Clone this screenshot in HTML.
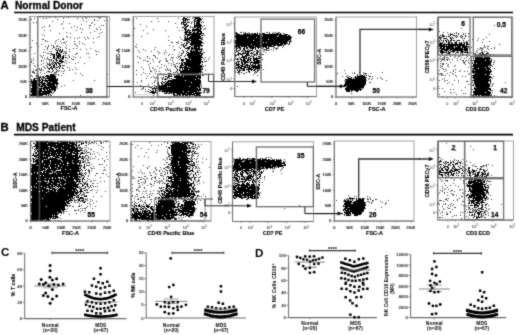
<!DOCTYPE html>
<html><head><meta charset="utf-8"><style>
html,body{margin:0;padding:0;background:#fff;width:520px;height:335px;overflow:hidden}
svg{display:block;filter:grayscale(1)}
text{font-family:"Liberation Sans", sans-serif}
</style></head><body><svg width="520" height="335" viewBox="0 0 520 335" font-family='"Liberation Sans", sans-serif'><defs><filter id="bl" x="0" y="0" width="520" height="335" filterUnits="userSpaceOnUse"><feConvolveMatrix order="3" kernelMatrix="0.025 0.1 0.025 0.1 0.5 0.1 0.025 0.1 0.025" edgeMode="none" preserveAlpha="false"/></filter></defs><rect width="520" height="335" fill="#fff"/><g filter="url(#bl)"><text x="0.6" y="8.9" font-size="11.3" font-weight="bold" stroke="#000" stroke-width="0.3">A</text><text x="15" y="8.6" font-size="10.2" font-weight="bold" textLength="68" lengthAdjust="spacingAndGlyphs" stroke="#000" stroke-width="0.3">Normal Donor</text><line x1="14" y1="12.5" x2="513" y2="12.5" stroke="#000" stroke-width="1.6"/><text x="0.6" y="130.8" font-size="11.3" font-weight="bold" stroke="#000" stroke-width="0.3">B</text><text x="16.2" y="130.5" font-size="10.2" font-weight="bold" textLength="59.5" lengthAdjust="spacingAndGlyphs" stroke="#000" stroke-width="0.3">MDS Patient</text><line x1="14" y1="134.6" x2="513" y2="134.6" stroke="#000" stroke-width="1.6"/><g transform="translate(0 0.5)"><path d="M49 17h1M55 17h1M68 17h1M85 17h1M98 17h1M100 17h1M187 17h1M189 17h1M193 17h1M34 18h1M43 18h1M46 18h1M63 18h1M77 18h1M82 18h1M86 18h1M99 18h1M136 18h1M157 18h1M178 18h1M192 18h1M202 18h1M31 19h1M57 19h1M94 19h1M188 19h2M83 20h1M94 20h1M97 20h1M104 20h1M107 20h1M52 21h1M63 21h1M86 21h1M151 21h1M158 21h1M168 21h1M188 21h1M192 21h1M202 21h1M33 22h1M36 22h1M92 22h1M188 22h2M191 22h1M203 22h1M62 23h1M69 23h1M91 23h1M175 23h1M191 23h1M61 24h1M81 24h1M94 24h1M140 24h1M181 24h1M49 25h1M89 25h2M101 25h1M103 25h1M204 25h1M494 25h1M44 26h1M49 26h1M74 26h1M146 26h1M190 26h1M42 27h1M71 27h1M77 27h1M89 27h1M99 27h1M177 27h1M63 28h1M80 28h1M96 28h1M134 28h1M204 28h2M461 28h1M82 29h1M97 29h1M100 29h1M153 29h1M203 29h1M37 30h1M44 30h1M50 30h1M76 30h1M143 30h1M165 30h1M179 30h1M182 30h1M94 31h1M439 31h1M37 32h1M66 32h1M81 32h1M90 32h1M101 32h1M235 32h2M240 32h2M243 32h1M245 32h1M248 32h1M257 32h1M266 32h2M269 32h1M273 32h1M275 32h1M278 32h2M443 32h1M447 32h1M456 32h1M59 33h1M70 33h1M99 33h1M147 33h1M203 33h1M450 33h1M454 33h1M456 33h1M458 33h1M463 33h1M465 33h1M468 33h1M37 34h1M42 34h1M203 34h1M469 34h1M489 34h1M44 35h1M204 35h1M66 36h1M99 36h1M141 36h1M168 36h1M439 36h1M468 36h1M67 37h1M70 37h1M79 37h1M84 37h1M87 37h1M97 37h1M180 37h1M439 37h1M486 37h1M63 38h1M74 38h1M77 38h1M88 38h1M93 38h1M438 38h2M478 38h1M42 39h2M58 39h1M62 39h2M85 39h1M181 39h1M438 39h1M472 39h1M483 39h1M32 40h1M45 40h1M56 40h1M168 40h1M183 40h1M439 40h1M468 40h1M477 40h1M45 41h1M47 41h1M55 41h1M60 41h1M66 41h1M74 41h1M79 41h1M178 41h1M291 41h1M438 41h1M489 41h1M63 42h2M93 42h1M171 42h2M176 42h2M181 42h1M482 42h1M36 43h1M55 43h1M61 43h1M65 43h1M74 43h1M79 43h1M82 43h1M178 43h1M203 43h1M41 44h1M75 44h1M84 44h1M136 44h1M181 44h2M288 44h2M499 44h1M48 45h1M51 45h1M53 45h1M57 45h1M66 45h1M76 45h1M169 45h1M181 45h1M484 45h1M38 46h1M45 46h1M48 46h1M53 46h1M56 46h2M59 46h1M77 46h1M135 46h1M173 46h1M283 46h1M484 46h1M487 46h2M31 47h1M47 47h1M53 47h2M65 47h1M136 47h1M155 47h1M179 47h1M277 47h1M282 47h1M471 47h1M480 47h1M483 47h1M485 47h1M494 47h1M47 48h1M52 48h1M66 48h1M73 48h1M76 48h1M90 48h1M180 48h1M273 48h1M275 48h3M469 48h1M477 48h1M480 48h3M487 48h1M491 48h1M494 48h1M44 49h1M47 49h1M69 49h1M80 49h1M86 49h1M143 49h1M154 49h1M174 49h1M263 49h4M269 49h1M271 49h1M276 49h1M469 49h1M473 49h1M479 49h1M482 49h1M488 49h1M37 50h1M95 50h1M138 50h1M145 50h1M165 50h1M174 50h1M264 50h1M266 50h3M273 50h1M477 50h1M481 50h1M49 51h1M51 51h1M66 51h1M69 51h1M96 51h1M98 51h1M151 51h1M157 51h1M263 51h1M476 51h1M482 51h1M484 51h1M486 51h1M43 52h1M45 52h1M65 52h1M139 52h1M159 52h1M164 52h1M166 52h1M179 52h1M203 52h2M265 52h1M471 52h1M477 52h1M487 52h1M34 53h1M47 53h2M50 53h1M66 53h1M76 53h2M86 53h1M88 53h1M158 53h1M181 53h1M438 53h1M467 53h1M474 53h2M75 54h1M96 54h1M164 54h1M169 54h1M172 54h1M178 54h1M181 54h1M262 54h2M446 54h1M449 54h2M452 54h1M462 54h2M466 54h1M473 54h1M493 54h1M40 55h1M43 55h1M50 55h1M68 55h1M153 55h2M168 55h1M180 55h2M442 55h1M446 55h1M454 55h1M460 55h1M462 55h1M466 55h1M41 56h1M69 56h1M73 56h1M137 56h1M147 56h1M155 56h1M178 56h2M440 56h1M444 56h1M450 56h1M455 56h1M458 56h2M467 56h1M470 56h1M42 57h1M47 57h1M50 57h1M66 57h1M69 57h1M75 57h1M80 57h1M89 57h1M139 57h1M147 57h1M155 57h1M171 57h1M173 57h1M176 57h1M178 57h1M180 57h1M205 57h1M209 57h1M261 57h1M443 57h2M446 57h2M454 57h1M461 57h1M466 57h1M471 57h1M473 57h1M33 58h1M44 58h1M47 58h1M67 58h1M71 58h1M140 58h1M149 58h1M157 58h1M165 58h1M172 58h1M180 58h1M203 58h1M439 58h2M442 58h1M444 58h1M448 58h1M457 58h1M464 58h1M469 58h1M31 59h1M46 59h1M48 59h2M72 59h2M152 59h1M166 59h1M170 59h1M179 59h1M204 59h1M208 59h1M262 59h1M441 59h4M446 59h2M449 59h1M452 59h1M460 59h1M33 60h1M41 60h1M43 60h1M49 60h1M65 60h1M143 60h1M145 60h1M160 60h1M166 60h1M172 60h1M438 60h1M441 60h1M444 60h1M447 60h1M457 60h1M462 60h2M466 60h1M468 60h1M470 60h3M494 60h1M31 61h1M41 61h1M50 61h1M66 61h1M147 61h2M153 61h1M159 61h1M166 61h2M204 61h3M440 61h1M463 61h1M465 61h1M471 61h1M31 62h1M46 62h1M49 62h1M64 62h1M69 62h1M78 62h1M138 62h1M159 62h1M173 62h1M450 62h1M463 62h2M468 62h1M472 62h1M493 62h2M33 63h1M43 63h1M47 63h1M49 63h1M66 63h1M75 63h1M84 63h1M150 63h1M168 63h1M171 63h1M176 63h2M440 63h1M442 63h2M446 63h1M464 63h1M469 63h1M30 64h1M37 64h1M41 64h1M47 64h3M148 64h1M161 64h1M173 64h2M442 64h2M448 64h1M465 64h1M493 64h1M34 65h1M38 65h1M46 65h1M63 65h2M164 65h1M171 65h1M175 65h1M205 65h1M440 65h1M447 65h1M455 65h1M35 66h1M43 66h1M47 66h1M149 66h1M157 66h1M166 66h1M174 66h2M203 66h1M441 66h2M448 66h1M454 66h1M470 66h1M492 66h1M44 67h1M62 67h1M67 67h1M75 67h1M141 67h1M152 67h1M161 67h1M175 67h1M440 67h1M468 67h1M39 68h1M41 68h1M45 68h1M62 68h2M69 68h1M149 68h1M153 68h1M159 68h1M167 68h1M442 68h1M471 68h1M494 68h1M33 69h1M36 69h1M39 69h1M41 69h1M72 69h1M76 69h1M143 69h1M155 69h1M165 69h1M167 69h1M169 69h1M263 69h1M443 69h1M445 69h1M455 69h1M30 70h1M35 70h2M40 70h2M43 70h1M59 70h1M64 70h1M69 70h1M136 70h1M150 70h1M154 70h1M166 70h1M168 70h1M170 70h1M205 70h1M344 70h1M439 70h1M446 70h1M453 70h1M460 70h1M32 71h2M37 71h1M47 71h1M58 71h1M61 71h1M63 71h1M150 71h2M156 71h1M159 71h1M235 71h1M444 71h1M453 71h1M459 71h1M464 71h1M467 71h1M32 72h3M40 72h1M46 72h1M49 72h1M51 72h1M54 72h3M143 72h1M235 72h1M237 72h2M260 72h1M354 72h1M359 72h1M363 72h1M382 72h1M450 72h1M455 72h1M34 73h1M36 73h2M44 73h1M63 73h1M75 73h1M80 73h1M145 73h1M149 73h1M155 73h1M160 73h1M238 73h1M243 73h2M255 73h1M337 73h1M345 73h1M352 73h1M354 73h1M364 73h3M370 73h1M438 73h1M440 73h2M447 73h1M452 73h1M469 73h1M37 74h1M56 74h1M58 74h1M107 74h1M136 74h1M141 74h1M161 74h1M239 74h1M253 74h1M357 74h1M363 74h1M365 74h1M439 74h1M441 74h2M453 74h1M468 74h1M31 75h1M58 75h1M61 75h1M82 75h1M163 75h1M202 75h2M257 75h1M347 75h1M368 75h1M441 75h1M443 75h1M445 75h1M449 75h1M455 75h1M30 76h1M32 76h1M42 76h2M147 76h1M153 76h1M342 76h1M346 76h1M370 76h1M372 76h1M456 76h1M462 76h1M465 76h1M493 76h1M151 77h1M154 77h1M156 77h1M161 77h1M354 77h1M366 77h1M380 77h1M471 77h1M57 78h1M106 78h1M146 78h1M155 78h1M158 78h1M369 78h1M372 78h1M377 78h1M381 78h1M444 78h1M492 78h1M368 79h1M371 79h1M382 79h1M442 79h1M471 79h1M73 80h1M94 80h1M141 80h1M155 80h1M344 80h1M366 80h1M386 80h1M439 80h1M445 80h1M447 80h1M454 80h1M458 80h1M141 81h1M154 81h1M444 81h1M466 81h2M137 82h1M154 82h1M157 82h1M369 82h2M449 82h1M458 82h1M505 82h1M58 83h1M152 83h1M447 83h1M493 83h1M30 84h1M148 84h1M201 84h1M365 84h1M452 84h1M468 84h1M470 84h1M492 84h1M30 85h1M64 85h1M140 85h1M472 85h1M492 85h1M61 86h1M149 86h1M201 86h1M237 86h1M438 86h1M491 86h1M143 87h1M149 87h2M201 87h1M465 87h1M30 88h1M57 88h1M142 88h2M439 88h1M442 88h1M471 88h1M133 89h1M141 89h1M145 89h1M148 89h1M450 89h1M453 89h1M472 89h1M461 90h1M471 90h1M491 90h2M145 91h1M147 91h2M346 91h1M444 91h1M471 91h1M135 92h1M149 92h1M201 92h1M450 92h1M454 92h1M471 92h1M492 92h1M52 93h1M157 93h1M164 93h1M351 93h1M451 93h1M463 93h1M465 93h1M439 94h1M456 94h1M470 94h1M491 94h1M50 95h2M80 95h1M153 95h1M173 95h1M472 95h1M491 95h1M494 95h1M41 96h1M45 96h1M177 96h2M442 96h1M470 96h1M492 96h1M501 96h1M31 141h1M150 141h1M198 141h1M456 141h1M466 141h1M33 142h1M149 142h1M164 142h1M167 142h1M33 143h1M86 143h1M89 143h2M93 143h1M96 143h1M100 143h2M167 143h1M446 143h1M88 144h1M132 144h1M161 144h1M198 144h1M201 144h1M31 145h1M85 145h2M98 145h1M137 145h1M151 145h1M158 145h1M33 146h1M101 146h1M109 146h1M166 146h1M198 146h2M470 146h1M32 147h1M84 147h1M86 147h1M103 147h1M135 147h1M197 147h1M32 148h1M88 148h1M141 148h1M197 148h1M85 149h1M90 149h2M101 149h1M148 149h1M167 149h1M196 149h1M451 149h1M473 149h1M84 150h1M86 150h1M157 150h1M455 150h1M84 151h1M86 151h1M93 151h1M167 151h1M85 152h1M87 152h3M97 152h1M106 152h1M109 152h1M146 152h1M156 152h1M167 152h1M84 153h1M86 153h1M90 153h1M94 153h1M196 153h3M90 154h1M92 154h1M99 154h1M85 155h3M198 155h1M85 156h1M88 156h1M95 156h1M106 156h1M138 156h1M144 156h1M197 156h1M84 157h1M88 157h1M90 157h1M148 157h1M167 157h1M239 157h1M266 157h1M268 157h1M270 157h1M439 157h1M85 158h2M88 158h1M92 158h1M94 158h1M102 158h1M166 158h1M197 158h1M202 158h1M233 158h1M237 158h1M239 158h2M243 158h1M271 158h1M440 158h1M87 159h1M90 159h1M98 159h1M107 159h1M163 159h1M167 159h1M196 159h1M206 159h1M284 159h1M438 159h1M442 159h1M454 159h1M462 159h1M31 160h1M85 160h1M87 160h2M104 160h1M165 160h1M450 160h1M454 160h1M456 160h1M458 160h1M464 160h1M104 161h1M196 161h1M198 161h1M285 161h1M445 161h2M452 161h2M458 161h1M461 161h1M466 161h1M85 162h1M87 162h3M166 162h2M196 162h1M202 162h1M470 162h1M86 163h1M89 163h1M462 163h1M91 164h1M99 164h2M102 164h1M164 164h1M197 164h1M465 164h1M474 164h1M486 164h1M488 164h1M86 165h4M106 165h1M143 165h1M466 165h1M472 165h1M483 165h2M486 165h1M492 165h1M93 166h1M133 166h1M149 166h1M196 166h1M473 166h1M475 166h2M480 166h4M486 166h1M90 167h1M104 167h1M147 167h1M155 167h1M160 167h1M165 167h2M196 167h1M198 167h1M209 167h1M468 167h1M481 167h1M91 168h2M94 168h1M147 168h1M155 168h1M163 168h2M197 168h1M199 168h1M282 168h1M465 168h1M86 169h1M88 169h1M104 169h1M156 169h1M161 169h1M165 169h1M266 169h1M273 169h1M281 169h1M465 169h2M487 169h1M88 170h2M91 170h1M103 170h1M105 170h1M132 170h1M140 170h1M156 170h1M159 170h1M166 170h1M197 170h1M199 170h1M263 170h1M280 170h1M465 170h1M88 171h2M154 171h1M159 171h1M162 171h1M164 171h1M197 171h1M263 171h1M272 171h2M465 171h1M89 172h1M131 172h1M138 172h1M141 172h1M149 172h1M153 172h1M165 172h1M197 172h2M200 172h1M488 172h1M86 173h1M89 173h1M96 173h2M102 173h2M142 173h1M144 173h1M150 173h1M155 173h1M160 173h2M281 173h1M466 173h1M488 173h1M106 174h1M156 174h1M164 174h2M198 174h1M488 174h1M88 175h1M95 175h1M150 175h2M160 175h3M196 175h1M488 175h1M491 175h1M88 176h1M108 176h1M132 176h1M144 176h2M155 176h1M163 176h1M200 176h1M264 176h1M446 176h1M448 176h1M463 176h1M100 177h1M133 177h1M138 177h2M141 177h1M152 177h1M154 177h2M166 177h1M196 177h1M198 177h2M264 177h1M439 177h1M447 177h1M452 177h1M455 177h1M489 177h1M87 178h1M132 178h1M134 178h1M143 178h1M146 178h2M151 178h1M155 178h1M159 178h1M163 178h1M445 178h1M451 178h1M89 179h1M140 179h2M144 179h1M151 179h1M163 179h1M166 179h1M198 179h1M264 179h1M440 179h1M454 179h1M460 179h1M466 179h1M87 180h1M93 180h1M95 180h1M138 180h1M145 180h1M156 180h1M159 180h1M161 180h1M166 180h1M198 180h2M442 180h1M445 180h3M453 180h1M463 180h2M90 181h2M100 181h1M104 181h1M138 181h1M145 181h1M154 181h2M158 181h1M160 181h1M162 181h1M166 181h1M197 181h2M441 181h1M447 181h1M463 181h1M488 181h3M141 182h1M143 182h1M145 182h1M157 182h1M159 182h1M163 182h1M196 182h1M203 182h1M262 182h1M92 183h2M97 183h1M138 183h2M144 183h1M150 183h1M154 183h1M159 183h1M162 183h1M164 183h2M199 183h1M444 183h1M453 183h1M463 183h2M466 183h1M132 184h1M142 184h1M150 184h2M197 184h1M490 184h1M90 185h1M92 185h1M139 185h1M147 185h1M153 185h1M445 185h1M450 185h1M455 185h1M466 185h1M488 185h1M88 186h1M90 186h1M93 186h1M95 186h1M97 186h1M140 186h1M151 186h1M442 186h1M458 186h1M464 186h1M488 186h1M89 187h1M91 187h1M138 187h2M144 187h1M159 187h1M161 187h1M447 187h1M488 187h1M88 188h1M132 188h1M144 188h1M159 188h2M442 188h1M445 188h1M488 188h1M92 189h1M136 189h2M444 189h1M448 189h1M460 189h1M462 189h1M90 190h2M97 190h1M136 190h1M138 190h1M146 190h1M153 190h1M157 190h1M160 190h1M198 190h1M440 190h1M442 190h1M451 190h2M459 190h1M105 191h1M132 191h1M139 191h1M143 191h1M145 191h1M150 191h1M158 191h2M198 191h2M442 191h1M450 191h1M454 191h1M465 191h1M88 192h1M96 192h1M159 192h1M198 192h1M260 192h1M439 192h1M444 192h1M447 192h1M462 192h1M488 192h1M142 193h1M146 193h1M150 193h1M152 193h1M157 193h2M444 193h1M451 193h1M463 193h1M488 193h1M136 194h2M149 194h1M203 194h1M438 194h1M452 194h2M488 194h1M132 195h1M147 195h1M151 195h1M198 195h1M348 195h1M447 195h1M453 195h1M456 195h1M466 195h1M490 195h1M93 196h1M101 196h1M132 196h1M135 196h1M137 196h1M143 196h1M149 196h1M199 196h1M201 196h1M205 196h1M354 196h1M356 196h1M358 196h1M367 196h1M461 196h2M466 196h1M140 197h2M143 197h2M147 197h1M149 197h1M155 197h2M349 197h2M358 197h1M369 197h1M487 197h1M87 198h1M134 198h1M138 198h1M155 198h1M198 198h1M364 198h1M367 198h1M370 198h1M446 198h1M448 198h1M459 198h1M488 198h1M77 199h1M90 199h1M131 199h1M137 199h2M140 199h1M150 199h2M155 199h1M246 199h2M344 199h1M367 199h2M370 199h1M375 199h2M445 199h2M457 199h1M487 199h1M491 199h1M74 200h3M87 200h1M92 200h1M141 200h1M145 200h1M200 200h1M336 200h1M372 200h2M388 200h1M439 200h3M447 200h1M453 200h1M457 200h1M74 201h1M78 201h1M90 201h1M96 201h1M134 201h1M140 201h1M142 201h1M151 201h1M156 201h1M197 201h1M343 201h1M367 201h2M372 201h1M380 201h1M443 201h1M462 201h2M75 202h1M77 202h1M131 202h2M135 202h1M138 202h1M144 202h2M154 202h1M156 202h1M352 202h1M369 202h1M371 202h1M382 202h1M386 202h1M438 202h1M79 203h1M87 203h1M89 203h1M93 203h1M134 203h1M136 203h1M145 203h1M150 203h1M197 203h1M371 203h1M385 203h1M438 203h1M445 203h1M451 203h1M464 203h1M487 203h1M90 204h1M131 204h1M385 204h1M439 204h1M443 204h1M445 204h1M450 204h1M453 204h1M461 204h1M501 204h1M69 205h2M79 205h1M81 205h1M299 205h1M448 205h1M452 205h1M463 205h1M465 205h1M488 205h1M69 206h1M72 206h2M78 206h2M87 206h1M90 206h1M95 206h1M442 206h1M450 206h1M466 206h1M86 207h1M381 207h1M447 207h1M454 207h2M468 207h1M67 208h1M80 208h1M82 208h1M84 208h2M92 208h1M131 208h1M196 208h1M284 208h1M365 208h1M443 208h1M448 208h2M486 208h1M489 208h1M78 209h1M375 209h1M444 209h1M452 209h1M466 209h1M468 209h1M488 209h1M74 210h3M78 210h1M82 210h1M85 210h1M439 210h1M486 210h1M64 211h1M66 211h1M80 211h1M363 211h1M442 211h1M450 211h1M465 211h1M487 211h1M63 212h1M84 212h1M442 212h1M446 212h1M450 212h1M460 212h1M462 212h1M464 212h1M467 212h1M63 213h1M76 213h1M440 213h1M447 213h1M488 213h1M69 214h1M446 214h2M469 214h1M486 214h1M60 215h1M88 215h1M193 215h1M344 215h1M442 215h1M454 215h1M456 215h1M460 215h1M469 215h1M488 215h1M185 216h1M452 216h1M466 216h1M58 217h1M178 217h1M181 217h1M183 217h1M190 217h1M439 217h2M442 217h1M468 217h1M484 217h2M57 218h1M60 218h1M176 218h1M179 218h1M461 218h1M476 218h2M176 219h1M181 219h1M452 219h1M461 219h1M474 219h1M482 219h1M50 220h1M55 220h1M58 220h1M92 220h1M158 220h1M160 220h1M177 220h1M184 220h1" stroke="#4a4a4a" stroke-width="1" fill="none"/><path d="M183 17h2M194 17h6M183 18h4M195 18h6M182 19h2M185 19h3M194 19h2M197 19h5M183 20h3M187 20h1M194 20h1M196 20h5M183 21h1M185 21h1M194 21h2M197 21h3M181 22h5M187 22h1M194 22h1M196 22h4M201 22h1M181 23h1M183 23h1M186 23h1M194 23h1M196 23h4M183 24h4M194 24h1M196 24h5M184 25h2M187 25h2M194 25h8M184 26h1M186 26h2M194 26h7M202 26h1M182 27h2M185 27h2M190 27h1M192 27h1M194 27h2M197 27h4M184 28h2M193 28h1M196 28h3M200 28h2M184 29h3M188 29h1M192 29h9M185 30h1M187 30h4M192 30h9M185 31h3M189 31h1M192 31h1M194 31h1M197 31h5M184 32h8M193 32h2M196 32h3M200 32h2M185 33h2M189 33h2M192 33h11M235 33h3M244 33h2M247 33h1M249 33h1M251 33h2M254 33h2M257 33h1M259 33h1M262 33h3M269 33h1M272 33h1M274 33h1M276 33h3M280 33h1M283 33h1M185 34h16M236 34h4M241 34h1M243 34h8M252 34h6M259 34h23M284 34h4M442 34h1M448 34h1M450 34h3M458 34h1M463 34h1M184 35h1M187 35h3M191 35h9M201 35h2M235 35h27M263 35h15M279 35h8M288 35h2M440 35h1M442 35h2M450 35h1M453 35h2M456 35h1M461 35h1M465 35h1M185 36h1M187 36h1M190 36h11M235 36h42M278 36h13M442 36h3M446 36h1M448 36h2M455 36h1M457 36h1M460 36h1M462 36h1M465 36h1M184 37h2M187 37h1M189 37h12M202 37h1M235 37h12M248 37h8M257 37h35M440 37h2M450 37h1M452 37h1M456 37h1M461 37h1M185 38h17M236 38h55M440 38h1M443 38h4M450 38h2M453 38h1M462 38h1M464 38h1M184 39h6M191 39h8M201 39h2M236 39h32M269 39h22M440 39h1M447 39h1M451 39h1M184 40h4M189 40h12M235 40h18M254 40h35M290 40h1M441 40h1M443 40h1M445 40h2M448 40h1M450 40h2M453 40h2M457 40h3M463 40h1M187 41h2M191 41h11M235 41h53M289 41h2M439 41h1M443 41h1M446 41h1M448 41h1M450 41h1M456 41h1M466 41h1M186 42h1M188 42h2M191 42h12M235 42h28M264 42h2M267 42h20M289 42h1M440 42h1M442 42h1M446 42h1M448 42h2M451 42h1M454 42h3M459 42h1M461 42h1M463 42h2M466 42h2M184 43h1M186 43h2M190 43h12M235 43h44M280 43h8M289 43h1M438 43h5M444 43h1M448 43h2M451 43h2M455 43h2M459 43h3M464 43h1M466 43h2M183 44h1M186 44h1M190 44h11M236 44h15M252 44h31M284 44h2M438 44h4M443 44h22M466 44h3M183 45h1M185 45h2M191 45h2M194 45h9M235 45h37M273 45h3M277 45h5M283 45h1M438 45h7M446 45h1M448 45h17M466 45h1M183 46h2M189 46h2M193 46h7M201 46h1M235 46h5M241 46h6M248 46h6M255 46h12M268 46h6M278 46h1M438 46h16M455 46h1M457 46h4M462 46h7M60 47h1M184 47h1M187 47h3M191 47h2M194 47h3M198 47h2M235 47h2M238 47h3M244 47h1M246 47h2M249 47h7M257 47h5M263 47h1M265 47h2M268 47h1M274 47h1M438 47h1M440 47h2M443 47h2M446 47h8M455 47h6M462 47h5M468 47h1M56 48h1M58 48h1M185 48h5M191 48h9M201 48h1M236 48h2M239 48h2M243 48h2M246 48h2M250 48h4M255 48h1M258 48h1M262 48h1M266 48h3M439 48h6M446 48h17M464 48h4M55 49h1M58 49h1M60 49h1M62 49h1M188 49h1M191 49h2M194 49h9M236 49h1M240 49h1M243 49h2M248 49h1M252 49h1M255 49h1M441 49h8M450 49h18M56 50h2M59 50h2M62 50h1M182 50h1M187 50h1M190 50h2M193 50h1M195 50h3M199 50h1M201 50h1M236 50h1M238 50h2M242 50h1M244 50h2M247 50h1M249 50h4M256 50h2M259 50h1M438 50h5M444 50h4M449 50h2M452 50h11M464 50h4M57 51h1M59 51h1M61 51h2M64 51h1M183 51h1M186 51h1M190 51h9M200 51h2M236 51h2M241 51h1M243 51h1M245 51h5M254 51h1M257 51h2M438 51h1M440 51h4M446 51h1M448 51h1M451 51h4M457 51h1M460 51h4M465 51h1M467 51h1M56 52h2M60 52h2M183 52h1M187 52h2M190 52h11M235 52h1M238 52h1M243 52h1M245 52h1M247 52h2M251 52h1M253 52h1M256 52h2M259 52h1M440 52h7M448 52h3M453 52h1M456 52h3M461 52h2M464 52h5M481 52h2M51 53h1M56 53h4M63 53h1M65 53h1M182 53h1M186 53h1M188 53h15M238 53h3M242 53h7M250 53h3M256 53h2M260 53h1M441 53h2M447 53h3M455 53h1M460 53h1M462 53h1M479 53h2M482 53h2M486 53h3M51 54h4M56 54h1M58 54h3M187 54h13M201 54h2M235 54h1M237 54h2M240 54h3M246 54h3M253 54h3M257 54h1M259 54h2M475 54h1M478 54h1M480 54h7M490 54h1M53 55h2M56 55h5M63 55h1M65 55h1M185 55h1M187 55h15M235 55h2M238 55h1M242 55h1M245 55h5M251 55h1M254 55h1M256 55h1M260 55h1M475 55h2M478 55h10M489 55h1M53 56h2M57 56h4M62 56h2M184 56h1M188 56h14M235 56h1M242 56h5M250 56h1M252 56h2M258 56h2M474 56h1M476 56h10M487 56h2M53 57h2M56 57h3M60 57h1M62 57h2M65 57h1M188 57h15M239 57h1M241 57h4M246 57h1M248 57h2M253 57h1M256 57h1M259 57h2M475 57h8M484 57h6M53 58h2M56 58h1M58 58h2M61 58h3M185 58h2M189 58h12M235 58h1M237 58h1M240 58h1M243 58h4M248 58h1M250 58h2M253 58h8M473 58h1M475 58h16M51 59h1M55 59h2M60 59h1M62 59h1M181 59h3M185 59h5M191 59h11M236 59h3M240 59h2M243 59h2M247 59h4M253 59h5M475 59h15M491 59h1M51 60h1M53 60h1M56 60h2M59 60h3M181 60h3M186 60h15M241 60h5M247 60h2M250 60h1M253 60h2M256 60h4M473 60h12M486 60h4M491 60h1M53 61h1M56 61h1M59 61h5M182 61h1M186 61h17M237 61h3M241 61h1M243 61h5M249 61h1M251 61h1M254 61h6M474 61h18M52 62h1M54 62h2M57 62h2M61 62h2M181 62h1M183 62h18M202 62h1M236 62h1M238 62h1M241 62h2M244 62h5M250 62h11M474 62h17M51 63h1M53 63h1M55 63h2M58 63h3M179 63h1M181 63h2M184 63h17M235 63h2M238 63h1M241 63h2M244 63h2M250 63h1M253 63h6M472 63h1M474 63h2M477 63h14M50 64h1M52 64h1M54 64h1M56 64h1M59 64h1M181 64h2M184 64h16M202 64h1M236 64h4M242 64h3M246 64h2M250 64h1M252 64h1M255 64h1M258 64h2M473 64h18M49 65h2M53 65h2M56 65h1M59 65h2M62 65h1M180 65h4M185 65h17M236 65h3M240 65h3M245 65h5M251 65h5M257 65h5M473 65h16M490 65h2M51 66h1M53 66h2M58 66h1M60 66h1M177 66h1M180 66h2M184 66h3M188 66h15M235 66h1M238 66h2M241 66h5M247 66h1M249 66h2M252 66h8M472 66h16M489 66h1M47 67h1M50 67h2M53 67h2M56 67h2M59 67h1M179 67h10M190 67h12M236 67h6M244 67h6M251 67h11M474 67h11M486 67h3M490 67h1M48 68h2M51 68h2M55 68h1M59 68h1M176 68h1M180 68h1M182 68h1M184 68h17M202 68h1M235 68h2M238 68h1M240 68h5M248 68h4M253 68h1M255 68h5M472 68h6M479 68h11M49 69h1M52 69h1M56 69h1M177 69h1M179 69h1M182 69h1M184 69h4M189 69h14M237 69h1M239 69h1M241 69h1M243 69h2M246 69h7M254 69h2M257 69h1M259 69h1M473 69h13M487 69h4M53 70h1M57 70h1M177 70h1M179 70h2M182 70h19M237 70h1M239 70h2M242 70h3M248 70h1M251 70h1M253 70h2M257 70h2M472 70h2M475 70h14M490 70h1M48 71h2M52 71h1M56 71h1M170 71h1M176 71h1M180 71h22M238 71h2M248 71h2M255 71h1M257 71h1M472 71h20M173 72h1M175 72h1M177 72h1M180 72h21M202 72h1M239 72h1M241 72h1M246 72h1M249 72h1M254 72h1M256 72h1M472 72h19M54 73h1M168 73h3M178 73h1M180 73h19M200 73h1M473 73h1M475 73h15M50 74h4M55 74h1M166 74h1M169 74h3M178 74h5M184 74h16M474 74h11M486 74h4M491 74h1M36 75h1M38 75h1M46 75h3M50 75h5M168 75h2M171 75h1M174 75h1M176 75h4M181 75h20M357 75h1M360 75h3M364 75h1M366 75h1M472 75h17M36 76h3M40 76h1M45 76h11M165 76h2M168 76h4M174 76h9M184 76h12M197 76h4M349 76h1M355 76h1M357 76h8M369 76h1M473 76h18M37 77h4M42 77h3M47 77h9M163 77h1M167 77h2M174 77h27M347 77h2M351 77h1M355 77h11M472 77h20M34 78h6M41 78h1M43 78h1M45 78h11M162 78h1M165 78h1M167 78h1M169 78h1M171 78h1M176 78h22M199 78h2M348 78h4M353 78h1M355 78h11M473 78h17M31 79h1M33 79h2M37 79h3M41 79h2M45 79h1M48 79h10M162 79h1M164 79h3M172 79h23M196 79h4M345 79h21M474 79h15M490 79h1M31 80h1M33 80h8M42 80h16M168 80h17M186 80h15M346 80h20M472 80h19M30 81h10M41 81h2M45 81h3M49 81h8M162 81h1M165 81h1M167 81h34M345 81h21M474 81h15M490 81h1M31 82h7M39 82h4M44 82h1M47 82h4M52 82h6M158 82h1M161 82h1M163 82h2M166 82h3M170 82h21M192 82h9M345 82h21M472 82h1M474 82h14M490 82h1M31 83h9M41 83h5M47 83h11M158 83h1M161 83h2M165 83h36M345 83h21M474 83h15M490 83h1M32 84h9M42 84h3M46 84h9M56 84h2M158 84h1M162 84h1M164 84h36M344 84h21M473 84h1M475 84h15M31 85h9M41 85h5M47 85h8M56 85h1M154 85h1M158 85h2M161 85h40M344 85h21M473 85h1M475 85h15M32 86h6M39 86h4M44 86h3M48 86h8M57 86h1M152 86h1M155 86h2M158 86h9M168 86h1M170 86h19M190 86h10M344 86h2M347 86h17M475 86h15M32 87h7M41 87h1M43 87h14M151 87h1M154 87h1M156 87h1M158 87h39M198 87h2M346 87h18M474 87h1M476 87h13M31 88h19M51 88h5M152 88h46M199 88h2M345 88h16M362 88h1M474 88h17M31 89h7M39 89h3M43 89h2M46 89h2M49 89h7M152 89h1M155 89h1M157 89h44M345 89h17M474 89h17M31 90h11M44 90h2M47 90h4M52 90h1M54 90h2M150 90h1M153 90h1M155 90h3M159 90h2M162 90h39M346 90h4M351 90h2M354 90h5M360 90h1M475 90h13M490 90h1M30 91h22M54 91h1M151 91h3M155 91h1M157 91h1M159 91h1M161 91h22M184 91h4M189 91h8M198 91h1M347 91h3M351 91h1M356 91h2M473 91h17M31 92h10M42 92h10M53 92h1M150 92h7M164 92h1M166 92h2M169 92h25M195 92h6M473 92h12M486 92h5M32 93h18M152 93h3M165 93h2M168 93h2M171 93h1M173 93h2M176 93h10M187 93h5M193 93h8M474 93h17M30 94h17M48 94h1M50 94h1M173 94h2M177 94h4M182 94h13M196 94h4M473 94h17M30 95h13M46 95h1M48 95h1M174 95h4M179 95h2M182 95h2M185 95h3M189 95h2M192 95h1M194 95h7M473 95h1M475 95h2M478 95h2M481 95h10M33 96h1M36 96h2M39 96h1M183 96h1M188 96h2M195 96h2M199 96h1M473 96h2M476 96h5M482 96h4M487 96h2M35 141h14M50 141h3M54 141h1M57 141h11M69 141h2M72 141h1M75 141h2M78 141h3M82 141h1M85 141h2M89 141h1M94 141h1M96 141h1M99 141h2M105 141h3M173 141h1M175 141h2M178 141h1M180 141h1M182 141h2M185 141h1M188 141h1M36 142h23M60 142h15M76 142h2M79 142h1M81 142h1M83 142h1M85 142h2M88 142h1M91 142h2M94 142h1M101 142h1M103 142h1M171 142h9M182 142h11M34 143h1M36 143h11M48 143h20M69 143h6M76 143h1M81 143h3M172 143h1M174 143h9M184 143h4M190 143h2M193 143h1M35 144h21M57 144h13M71 144h6M79 144h1M81 144h1M172 144h14M187 144h1M192 144h2M195 144h1M35 145h28M64 145h10M75 145h2M78 145h2M170 145h17M188 145h2M195 145h1M34 146h14M50 146h25M76 146h1M78 146h1M171 146h16M188 146h1M192 146h2M36 147h16M54 147h16M71 147h4M76 147h2M79 147h2M168 147h2M171 147h17M189 147h1M191 147h1M195 147h1M35 148h14M50 148h4M55 148h2M58 148h3M62 148h16M79 148h1M81 148h2M169 148h1M171 148h20M192 148h3M34 149h1M36 149h1M38 149h16M56 149h7M64 149h14M80 149h1M171 149h16M35 150h1M37 150h8M46 150h2M49 150h18M68 150h15M171 150h16M188 150h3M193 150h1M34 151h1M37 151h29M67 151h6M74 151h6M171 151h11M183 151h8M192 151h2M195 151h1M35 152h2M38 152h5M44 152h6M51 152h5M57 152h4M62 152h6M70 152h5M76 152h2M81 152h2M171 152h14M186 152h4M191 152h1M194 152h1M33 153h1M35 153h2M38 153h5M44 153h3M48 153h18M67 153h5M73 153h6M80 153h4M168 153h1M171 153h16M188 153h1M192 153h1M194 153h2M33 154h1M37 154h13M51 154h6M58 154h2M61 154h11M75 154h3M80 154h1M168 154h1M172 154h15M192 154h1M32 155h23M56 155h22M79 155h1M169 155h21M191 155h1M193 155h1M34 156h3M38 156h5M44 156h1M46 156h4M53 156h6M60 156h18M79 156h2M82 156h2M168 156h1M173 156h14M192 156h1M36 157h12M50 157h1M52 157h1M55 157h5M62 157h3M66 157h8M75 157h6M82 157h1M169 157h1M171 157h8M180 157h8M191 157h1M32 158h2M35 158h1M38 158h10M49 158h8M58 158h1M60 158h19M81 158h3M171 158h19M191 158h1M194 158h1M247 158h2M250 158h1M252 158h3M260 158h1M262 158h1M265 158h1M33 159h2M36 159h8M45 159h1M47 159h11M59 159h1M61 159h17M83 159h1M169 159h2M172 159h16M190 159h1M192 159h1M234 159h7M242 159h6M249 159h1M251 159h5M257 159h4M262 159h5M268 159h2M272 159h1M274 159h1M276 159h1M278 159h1M280 159h1M33 160h1M35 160h7M43 160h7M51 160h10M62 160h10M73 160h8M82 160h1M171 160h18M191 160h1M234 160h10M245 160h10M257 160h18M276 160h6M440 160h1M33 161h9M43 161h7M51 161h11M63 161h16M80 161h1M83 161h2M171 161h7M179 161h14M233 161h1M235 161h7M244 161h21M266 161h15M283 161h1M439 161h3M33 162h1M36 162h6M43 162h24M68 162h4M73 162h8M82 162h2M171 162h7M179 162h11M193 162h1M234 162h16M251 162h31M283 162h2M438 162h2M443 162h1M445 162h1M447 162h2M450 162h2M453 162h1M457 162h1M459 162h2M35 163h15M51 163h9M61 163h6M69 163h4M74 163h3M79 163h2M170 163h19M191 163h1M193 163h2M234 163h51M444 163h1M446 163h1M450 163h1M455 163h3M460 163h1M31 164h13M45 164h10M56 164h7M64 164h14M79 164h1M84 164h1M168 164h2M171 164h7M179 164h7M188 164h3M192 164h1M194 164h1M234 164h5M240 164h42M284 164h2M438 164h4M445 164h1M448 164h2M452 164h2M455 164h1M457 164h1M32 165h5M38 165h11M50 165h8M59 165h8M68 165h14M84 165h1M170 165h17M190 165h5M233 165h38M272 165h14M443 165h1M448 165h1M450 165h1M453 165h1M460 165h1M31 166h18M50 166h8M59 166h21M81 166h1M84 166h1M167 166h2M172 166h18M192 166h1M195 166h1M233 166h7M241 166h35M277 166h6M440 166h1M444 166h4M453 166h2M458 166h1M462 166h1M32 167h11M44 167h6M51 167h4M56 167h5M62 167h17M80 167h1M83 167h2M167 167h1M169 167h1M171 167h3M175 167h5M181 167h7M190 167h1M193 167h1M233 167h28M262 167h2M265 167h8M274 167h1M276 167h1M278 167h1M283 167h1M438 167h1M440 167h1M443 167h2M447 167h2M452 167h1M454 167h1M459 167h1M463 167h1M469 167h1M31 168h14M46 168h1M48 168h2M51 168h6M58 168h23M84 168h1M168 168h1M171 168h19M192 168h1M195 168h1M233 168h19M253 168h12M266 168h2M270 168h1M272 168h1M274 168h1M439 168h1M441 168h2M445 168h1M448 168h1M452 168h2M455 168h1M460 168h2M468 168h2M477 168h1M480 168h1M31 169h15M47 169h13M61 169h4M66 169h4M71 169h8M81 169h1M170 169h1M172 169h15M189 169h1M192 169h1M233 169h10M245 169h4M251 169h2M254 169h1M256 169h5M438 169h1M441 169h2M445 169h4M451 169h1M454 169h6M462 169h1M468 169h1M472 169h1M479 169h3M483 169h1M31 170h12M44 170h1M46 170h5M52 170h4M61 170h20M82 170h1M85 170h1M167 170h1M169 170h2M172 170h15M190 170h3M233 170h2M236 170h5M242 170h10M253 170h2M257 170h1M259 170h1M438 170h3M442 170h2M446 170h2M450 170h3M454 170h4M462 170h1M468 170h2M472 170h3M476 170h1M483 170h2M486 170h1M31 171h10M43 171h9M53 171h2M56 171h24M170 171h1M172 171h14M187 171h4M192 171h2M233 171h1M235 171h3M241 171h2M244 171h3M248 171h1M251 171h6M258 171h2M261 171h1M438 171h3M447 171h1M449 171h2M452 171h3M458 171h2M463 171h1M467 171h1M469 171h1M471 171h1M473 171h3M479 171h1M484 171h2M31 172h3M35 172h2M38 172h4M43 172h2M46 172h6M53 172h1M55 172h22M79 172h1M81 172h1M85 172h1M167 172h1M170 172h1M172 172h1M174 172h14M195 172h1M235 172h1M237 172h1M240 172h1M242 172h2M245 172h3M249 172h2M253 172h3M257 172h1M260 172h3M439 172h13M456 172h1M459 172h1M464 172h1M468 172h3M472 172h2M477 172h3M481 172h2M484 172h1M32 173h5M38 173h11M52 173h4M57 173h4M62 173h6M69 173h9M79 173h2M82 173h1M84 173h1M167 173h1M170 173h5M176 173h13M191 173h1M195 173h1M233 173h1M235 173h2M238 173h1M240 173h3M246 173h3M250 173h1M253 173h3M259 173h1M261 173h1M439 173h1M445 173h2M448 173h1M451 173h1M453 173h2M456 173h1M458 173h1M461 173h2M469 173h2M473 173h1M475 173h1M477 173h2M482 173h2M485 173h1M487 173h1M32 174h50M85 174h1M173 174h16M190 174h1M193 174h1M195 174h1M234 174h1M236 174h2M240 174h3M247 174h1M249 174h1M251 174h1M253 174h1M255 174h1M258 174h3M439 174h4M444 174h1M447 174h2M451 174h3M464 174h1M469 174h1M472 174h1M474 174h2M477 174h2M481 174h5M487 174h1M31 175h9M41 175h2M44 175h34M81 175h3M172 175h4M177 175h11M189 175h1M193 175h1M234 175h4M241 175h2M248 175h4M253 175h1M255 175h3M260 175h1M441 175h2M445 175h1M448 175h1M450 175h1M452 175h2M456 175h1M458 175h1M461 175h1M463 175h1M467 175h1M469 175h2M475 175h4M480 175h1M482 175h1M486 175h2M31 176h32M64 176h5M70 176h10M81 176h1M84 176h1M167 176h2M170 176h2M173 176h16M193 176h1M234 176h1M237 176h3M241 176h3M245 176h1M247 176h7M256 176h1M259 176h2M442 176h1M470 176h1M474 176h4M479 176h1M481 176h2M484 176h3M31 177h21M53 177h5M60 177h1M62 177h4M67 177h6M74 177h4M79 177h2M83 177h1M168 177h22M191 177h2M194 177h2M233 177h4M239 177h1M243 177h2M246 177h5M252 177h1M257 177h1M259 177h1M468 177h6M475 177h4M481 177h1M484 177h2M31 178h5M37 178h8M46 178h3M50 178h2M53 178h2M56 178h3M60 178h1M62 178h1M64 178h15M82 178h2M168 178h4M174 178h6M181 178h10M194 178h1M233 178h1M235 178h3M239 178h1M241 178h2M244 178h1M246 178h6M253 178h1M257 178h2M260 178h1M468 178h5M474 178h3M479 178h1M481 178h1M486 178h1M31 179h33M65 179h9M75 179h6M82 179h1M84 179h1M171 179h16M188 179h1M190 179h2M194 179h1M235 179h3M239 179h1M241 179h8M251 179h1M253 179h1M255 179h3M469 179h4M474 179h7M482 179h2M485 179h1M31 180h13M45 180h3M49 180h3M53 180h6M60 180h5M66 180h8M76 180h2M79 180h1M82 180h1M167 180h2M170 180h2M174 180h6M181 180h7M191 180h1M195 180h1M233 180h2M236 180h3M245 180h2M248 180h3M252 180h3M259 180h1M469 180h1M471 180h1M473 180h10M484 180h1M487 180h1M31 181h7M39 181h1M41 181h4M47 181h1M49 181h4M54 181h21M76 181h5M82 181h1M86 181h1M168 181h21M193 181h1M235 181h1M237 181h2M240 181h6M252 181h1M254 181h2M258 181h1M468 181h8M477 181h5M483 181h2M486 181h1M31 182h17M49 182h11M61 182h16M79 182h1M83 182h1M85 182h1M171 182h19M193 182h1M234 182h1M238 182h2M242 182h1M244 182h1M247 182h1M249 182h1M252 182h2M255 182h2M259 182h1M468 182h11M480 182h5M31 183h5M37 183h10M48 183h3M52 183h5M59 183h6M66 183h10M78 183h1M80 183h2M84 183h2M87 183h1M167 183h2M170 183h1M172 183h15M188 183h1M190 183h4M233 183h1M235 183h3M242 183h2M246 183h3M253 183h1M468 183h4M473 183h10M486 183h1M31 184h29M61 184h3M65 184h14M82 184h1M84 184h1M86 184h2M166 184h2M171 184h21M194 184h1M234 184h1M237 184h3M241 184h4M246 184h4M251 184h4M256 184h1M258 184h2M467 184h1M469 184h1M472 184h14M31 185h19M51 185h2M54 185h3M58 185h3M62 185h16M82 185h2M87 185h1M166 185h4M171 185h21M194 185h1M233 185h1M235 185h15M251 185h4M259 185h1M467 185h16M484 185h1M487 185h1M32 186h2M35 186h6M42 186h5M48 186h7M56 186h22M79 186h1M82 186h1M85 186h1M87 186h1M166 186h12M179 186h11M191 186h1M193 186h1M233 186h4M238 186h1M241 186h7M249 186h10M467 186h16M484 186h2M32 187h4M37 187h7M45 187h6M52 187h1M55 187h1M58 187h1M60 187h3M64 187h10M75 187h4M80 187h1M85 187h1M163 187h1M166 187h2M170 187h19M192 187h2M233 187h3M237 187h19M257 187h2M469 187h1M471 187h13M485 187h3M31 188h15M49 188h6M57 188h1M59 188h5M65 188h11M79 188h1M81 188h1M83 188h2M161 188h1M165 188h2M168 188h2M171 188h1M174 188h17M192 188h2M195 188h1M233 188h2M236 188h10M247 188h9M257 188h3M469 188h2M472 188h12M485 188h1M32 189h16M49 189h1M52 189h5M58 189h19M80 189h2M86 189h1M163 189h1M166 189h2M169 189h2M173 189h18M193 189h2M233 189h3M237 189h13M251 189h8M469 189h2M472 189h14M487 189h1M32 190h10M43 190h10M54 190h2M57 190h15M73 190h2M76 190h2M80 190h2M84 190h2M87 190h1M161 190h2M165 190h4M170 190h7M178 190h12M191 190h2M194 190h1M234 190h3M238 190h21M469 190h19M31 191h8M40 191h8M49 191h7M57 191h19M77 191h1M79 191h4M161 191h1M163 191h2M166 191h6M173 191h17M191 191h3M195 191h3M233 191h1M235 191h23M468 191h1M470 191h14M486 191h2M31 192h15M47 192h32M80 192h1M83 192h1M86 192h2M164 192h2M168 192h22M191 192h1M193 192h1M196 192h1M233 192h10M244 192h3M248 192h11M471 192h14M486 192h2M31 193h43M75 193h3M80 193h1M84 193h1M161 193h2M164 193h1M166 193h29M234 193h4M239 193h4M244 193h16M470 193h1M472 193h13M486 193h1M31 194h44M76 194h1M79 194h1M82 194h2M159 194h1M162 194h3M166 194h4M171 194h16M188 194h7M234 194h7M242 194h12M255 194h4M467 194h2M471 194h15M31 195h37M69 195h7M77 195h2M81 195h1M84 195h1M86 195h1M160 195h1M162 195h1M164 195h27M193 195h3M197 195h1M233 195h20M254 195h4M259 195h1M467 195h1M469 195h12M482 195h4M32 196h41M76 196h1M78 196h1M84 196h3M161 196h1M163 196h1M165 196h25M191 196h3M197 196h1M233 196h1M235 196h7M244 196h2M247 196h2M250 196h8M469 196h6M476 196h6M483 196h2M486 196h1M32 197h41M74 197h1M76 197h3M80 197h3M158 197h2M161 197h9M171 197h2M174 197h3M178 197h4M184 197h2M187 197h1M190 197h4M196 197h1M233 197h2M236 197h1M239 197h8M248 197h5M254 197h5M468 197h4M473 197h12M486 197h1M31 198h11M43 198h28M72 198h2M79 198h5M158 198h2M161 198h10M172 198h4M178 198h2M181 198h4M186 198h1M188 198h1M190 198h3M195 198h1M234 198h2M241 198h2M247 198h2M251 198h5M257 198h1M347 198h1M349 198h6M356 198h1M358 198h3M362 198h2M468 198h1M472 198h11M484 198h3M31 199h38M70 199h2M74 199h1M78 199h2M83 199h1M85 199h2M160 199h4M165 199h8M174 199h3M180 199h1M182 199h1M184 199h2M187 199h4M192 199h5M346 199h1M348 199h1M350 199h1M352 199h1M356 199h1M358 199h6M469 199h1M473 199h1M475 199h8M485 199h1M31 200h36M68 200h5M78 200h2M81 200h3M158 200h16M175 200h1M183 200h4M189 200h1M191 200h2M195 200h1M344 200h2M347 200h2M350 200h1M352 200h1M356 200h8M468 200h1M470 200h11M482 200h2M485 200h1M31 201h34M66 201h4M80 201h1M82 201h1M84 201h2M158 201h17M176 201h1M178 201h1M183 201h1M185 201h10M344 201h8M354 201h10M469 201h1M471 201h4M477 201h3M481 201h2M32 202h37M71 202h1M83 202h2M158 202h1M160 202h14M176 202h1M184 202h11M345 202h7M353 202h13M469 202h1M471 202h3M475 202h4M480 202h5M31 203h35M67 203h3M157 203h19M178 203h2M184 203h11M344 203h7M353 203h12M468 203h2M471 203h1M473 203h2M476 203h4M481 203h1M31 204h36M134 204h1M139 204h1M143 204h1M146 204h1M149 204h1M155 204h2M158 204h17M177 204h2M181 204h2M184 204h12M344 204h22M474 204h3M479 204h1M482 204h1M485 204h2M31 205h37M132 205h1M135 205h2M138 205h2M141 205h1M146 205h3M156 205h19M178 205h1M181 205h13M343 205h1M345 205h21M468 205h1M470 205h3M474 205h5M481 205h2M485 205h1M31 206h15M47 206h18M67 206h1M133 206h2M136 206h1M138 206h3M142 206h3M146 206h4M151 206h2M154 206h1M156 206h6M163 206h13M177 206h6M184 206h8M193 206h1M343 206h22M474 206h1M477 206h2M482 206h1M31 207h34M134 207h1M141 207h1M144 207h1M147 207h2M150 207h2M153 207h1M156 207h22M180 207h1M182 207h13M345 207h3M349 207h16M469 207h1M474 207h3M481 207h2M485 207h1M31 208h34M132 208h2M135 208h3M140 208h1M142 208h2M145 208h2M150 208h3M156 208h16M173 208h1M178 208h1M180 208h15M344 208h21M469 208h1M472 208h1M478 208h4M31 209h35M132 209h3M136 209h3M140 209h2M143 209h1M146 209h1M151 209h23M175 209h5M182 209h14M343 209h3M347 209h17M470 209h1M473 209h1M475 209h1M477 209h1M481 209h3M31 210h30M62 210h2M132 210h2M135 210h1M137 210h1M142 210h1M144 210h2M147 210h3M152 210h3M156 210h13M170 210h4M175 210h2M178 210h12M191 210h4M343 210h1M345 210h4M350 210h14M472 210h1M474 210h1M476 210h1M478 210h2M485 210h1M31 211h31M63 211h1M131 211h1M133 211h2M136 211h3M140 211h1M142 211h6M149 211h2M153 211h1M156 211h20M178 211h17M344 211h1M346 211h17M469 211h1M473 211h1M475 211h2M480 211h3M484 211h1M31 212h26M58 212h4M134 212h3M138 212h3M142 212h1M144 212h3M148 212h3M152 212h26M180 212h4M185 212h1M187 212h7M344 212h7M352 212h10M469 212h4M475 212h1M477 212h4M484 212h2M32 213h27M61 213h1M132 213h1M134 213h41M176 213h1M179 213h1M182 213h7M190 213h4M345 213h6M352 213h10M474 213h1M477 213h3M481 213h1M483 213h1M31 214h27M131 214h11M143 214h6M151 214h5M157 214h9M167 214h3M171 214h8M181 214h7M189 214h4M344 214h1M346 214h3M350 214h1M354 214h7M472 214h1M474 214h1M478 214h2M481 214h1M485 214h1M31 215h21M53 215h1M55 215h2M131 215h7M139 215h23M163 215h14M179 215h3M183 215h1M186 215h7M346 215h5M354 215h4M471 215h2M474 215h1M478 215h1M481 215h1M483 215h1M31 216h27M132 216h7M140 216h7M148 216h22M171 216h3M188 216h2M474 216h1M476 216h1M478 216h1M480 216h1M482 216h1M31 217h21M53 217h1M55 217h3M131 217h19M151 217h13M165 217h10M473 217h1M476 217h4M481 217h1M31 218h18M50 218h1M52 218h4M131 218h2M134 218h22M157 218h8M166 218h7M174 218h2M31 219h14M46 219h4M134 219h3M139 219h1M141 219h20M162 219h9M174 219h2M31 220h7M39 220h4M44 220h6M131 220h2M135 220h3M139 220h1M147 220h2M151 220h3M156 220h2" stroke="#000" stroke-width="1" fill="none"/></g><rect x="30" y="16.5" width="79.4" height="80.5" fill="none" stroke="#8a8a8a" stroke-width="0.8"/><line x1="28.4" y1="97.0" x2="30" y2="97.0" stroke="#555" stroke-width="0.6"/><text x="27.1" y="98.3" font-size="3.8" text-anchor="end" stroke="#000" stroke-width="0.12">0</text><line x1="29.1" y1="93.92" x2="30" y2="93.92" stroke="#555" stroke-width="0.4"/><line x1="29.1" y1="90.84" x2="30" y2="90.84" stroke="#555" stroke-width="0.4"/><line x1="29.1" y1="87.76" x2="30" y2="87.76" stroke="#555" stroke-width="0.4"/><line x1="29.1" y1="84.68" x2="30" y2="84.68" stroke="#555" stroke-width="0.4"/><line x1="28.4" y1="81.6" x2="30" y2="81.6" stroke="#555" stroke-width="0.6"/><text x="27.1" y="82.89999999999999" font-size="3.8" text-anchor="end" stroke="#000" stroke-width="0.12">50K</text><line x1="29.1" y1="78.52" x2="30" y2="78.52" stroke="#555" stroke-width="0.4"/><line x1="29.1" y1="75.44" x2="30" y2="75.44" stroke="#555" stroke-width="0.4"/><line x1="29.1" y1="72.36" x2="30" y2="72.36" stroke="#555" stroke-width="0.4"/><line x1="29.1" y1="69.28" x2="30" y2="69.28" stroke="#555" stroke-width="0.4"/><line x1="28.4" y1="66.2" x2="30" y2="66.2" stroke="#555" stroke-width="0.6"/><text x="27.1" y="67.5" font-size="3.8" text-anchor="end" stroke="#000" stroke-width="0.12">100K</text><line x1="29.1" y1="63.120000000000005" x2="30" y2="63.120000000000005" stroke="#555" stroke-width="0.4"/><line x1="29.1" y1="60.040000000000006" x2="30" y2="60.040000000000006" stroke="#555" stroke-width="0.4"/><line x1="29.1" y1="56.96" x2="30" y2="56.96" stroke="#555" stroke-width="0.4"/><line x1="29.1" y1="53.88" x2="30" y2="53.88" stroke="#555" stroke-width="0.4"/><line x1="28.4" y1="50.8" x2="30" y2="50.8" stroke="#555" stroke-width="0.6"/><text x="27.1" y="52.099999999999994" font-size="3.8" text-anchor="end" stroke="#000" stroke-width="0.12">150K</text><line x1="29.1" y1="47.72" x2="30" y2="47.72" stroke="#555" stroke-width="0.4"/><line x1="29.1" y1="44.64" x2="30" y2="44.64" stroke="#555" stroke-width="0.4"/><line x1="29.1" y1="41.559999999999995" x2="30" y2="41.559999999999995" stroke="#555" stroke-width="0.4"/><line x1="29.1" y1="38.48" x2="30" y2="38.48" stroke="#555" stroke-width="0.4"/><line x1="28.4" y1="35.4" x2="30" y2="35.4" stroke="#555" stroke-width="0.6"/><text x="27.1" y="36.699999999999996" font-size="3.8" text-anchor="end" stroke="#000" stroke-width="0.12">200K</text><line x1="29.1" y1="32.32" x2="30" y2="32.32" stroke="#555" stroke-width="0.4"/><line x1="29.1" y1="29.24" x2="30" y2="29.24" stroke="#555" stroke-width="0.4"/><line x1="29.1" y1="26.159999999999997" x2="30" y2="26.159999999999997" stroke="#555" stroke-width="0.4"/><line x1="29.1" y1="23.08" x2="30" y2="23.08" stroke="#555" stroke-width="0.4"/><line x1="28.4" y1="20.0" x2="30" y2="20.0" stroke="#555" stroke-width="0.6"/><text x="27.1" y="21.3" font-size="3.8" text-anchor="end" stroke="#000" stroke-width="0.12">250K</text><line x1="29.1" y1="16.92" x2="30" y2="16.92" stroke="#555" stroke-width="0.4"/><line x1="30" y1="16.5" x2="30" y2="97" stroke="#555" stroke-width="0.7"/><line x1="30.0" y1="97" x2="30.0" y2="98.6" stroke="#555" stroke-width="0.6"/><text x="30.0" y="104.9" font-size="3.8" text-anchor="middle" stroke="#000" stroke-width="0.12">0</text><line x1="33.06" y1="97" x2="33.06" y2="97.9" stroke="#555" stroke-width="0.4"/><line x1="36.12" y1="97" x2="36.12" y2="97.9" stroke="#555" stroke-width="0.4"/><line x1="39.18" y1="97" x2="39.18" y2="97.9" stroke="#555" stroke-width="0.4"/><line x1="42.24" y1="97" x2="42.24" y2="97.9" stroke="#555" stroke-width="0.4"/><line x1="45.3" y1="97" x2="45.3" y2="98.6" stroke="#555" stroke-width="0.6"/><text x="45.3" y="104.9" font-size="3.8" text-anchor="middle" stroke="#000" stroke-width="0.12">50K</text><line x1="48.36" y1="97" x2="48.36" y2="97.9" stroke="#555" stroke-width="0.4"/><line x1="51.419999999999995" y1="97" x2="51.419999999999995" y2="97.9" stroke="#555" stroke-width="0.4"/><line x1="54.48" y1="97" x2="54.48" y2="97.9" stroke="#555" stroke-width="0.4"/><line x1="57.54" y1="97" x2="57.54" y2="97.9" stroke="#555" stroke-width="0.4"/><line x1="60.6" y1="97" x2="60.6" y2="98.6" stroke="#555" stroke-width="0.6"/><text x="60.6" y="104.9" font-size="3.8" text-anchor="middle" stroke="#000" stroke-width="0.12">100K</text><line x1="63.660000000000004" y1="97" x2="63.660000000000004" y2="97.9" stroke="#555" stroke-width="0.4"/><line x1="66.72" y1="97" x2="66.72" y2="97.9" stroke="#555" stroke-width="0.4"/><line x1="69.78" y1="97" x2="69.78" y2="97.9" stroke="#555" stroke-width="0.4"/><line x1="72.84" y1="97" x2="72.84" y2="97.9" stroke="#555" stroke-width="0.4"/><line x1="75.9" y1="97" x2="75.9" y2="98.6" stroke="#555" stroke-width="0.6"/><text x="75.9" y="104.9" font-size="3.8" text-anchor="middle" stroke="#000" stroke-width="0.12">150K</text><line x1="78.96000000000001" y1="97" x2="78.96000000000001" y2="97.9" stroke="#555" stroke-width="0.4"/><line x1="82.02000000000001" y1="97" x2="82.02000000000001" y2="97.9" stroke="#555" stroke-width="0.4"/><line x1="85.08000000000001" y1="97" x2="85.08000000000001" y2="97.9" stroke="#555" stroke-width="0.4"/><line x1="88.14" y1="97" x2="88.14" y2="97.9" stroke="#555" stroke-width="0.4"/><line x1="91.2" y1="97" x2="91.2" y2="98.6" stroke="#555" stroke-width="0.6"/><text x="91.2" y="104.9" font-size="3.8" text-anchor="middle" stroke="#000" stroke-width="0.12">200K</text><line x1="94.26" y1="97" x2="94.26" y2="97.9" stroke="#555" stroke-width="0.4"/><line x1="97.32000000000001" y1="97" x2="97.32000000000001" y2="97.9" stroke="#555" stroke-width="0.4"/><line x1="100.38000000000001" y1="97" x2="100.38000000000001" y2="97.9" stroke="#555" stroke-width="0.4"/><line x1="103.44" y1="97" x2="103.44" y2="97.9" stroke="#555" stroke-width="0.4"/><line x1="106.5" y1="97" x2="106.5" y2="98.6" stroke="#555" stroke-width="0.6"/><text x="106.5" y="104.9" font-size="3.8" text-anchor="middle" stroke="#000" stroke-width="0.12">250K</text><line x1="30" y1="97" x2="109.4" y2="97" stroke="#555" stroke-width="0.7"/><text x="15.8" y="56.5" font-size="5.6" font-weight="bold" text-anchor="middle" stroke="#000" stroke-width="0.12" transform="rotate(-90 15.8 56.5)" textLength="16" lengthAdjust="spacingAndGlyphs">SSC-A</text><text x="69" y="110.3" font-size="5.6" font-weight="bold" text-anchor="middle" textLength="17" lengthAdjust="spacingAndGlyphs" stroke="#000" stroke-width="0.12">FSC-A</text><rect x="37.8" y="16.7" width="69.10000000000001" height="80.3" fill="none" stroke="#6e6e6e" stroke-width="1.3"/><text x="85.4" y="93.4" font-size="6.6" font-weight="bold" stroke="#000" stroke-width="0.25">38</text><path d="M106.9 86.5 L150 86.5" stroke="#111" stroke-width="1.0" fill="none"/><rect x="133.3" y="16.5" width="80.69999999999999" height="80.5" fill="none" stroke="#8a8a8a" stroke-width="0.8"/><line x1="131.70000000000002" y1="97.0" x2="133.3" y2="97.0" stroke="#555" stroke-width="0.6"/><text x="130.4" y="98.3" font-size="3.8" text-anchor="end" stroke="#000" stroke-width="0.12">0</text><line x1="132.4" y1="93.92" x2="133.3" y2="93.92" stroke="#555" stroke-width="0.4"/><line x1="132.4" y1="90.84" x2="133.3" y2="90.84" stroke="#555" stroke-width="0.4"/><line x1="132.4" y1="87.76" x2="133.3" y2="87.76" stroke="#555" stroke-width="0.4"/><line x1="132.4" y1="84.68" x2="133.3" y2="84.68" stroke="#555" stroke-width="0.4"/><line x1="131.70000000000002" y1="81.6" x2="133.3" y2="81.6" stroke="#555" stroke-width="0.6"/><text x="130.4" y="82.89999999999999" font-size="3.8" text-anchor="end" stroke="#000" stroke-width="0.12">50K</text><line x1="132.4" y1="78.52" x2="133.3" y2="78.52" stroke="#555" stroke-width="0.4"/><line x1="132.4" y1="75.44" x2="133.3" y2="75.44" stroke="#555" stroke-width="0.4"/><line x1="132.4" y1="72.36" x2="133.3" y2="72.36" stroke="#555" stroke-width="0.4"/><line x1="132.4" y1="69.28" x2="133.3" y2="69.28" stroke="#555" stroke-width="0.4"/><line x1="131.70000000000002" y1="66.2" x2="133.3" y2="66.2" stroke="#555" stroke-width="0.6"/><text x="130.4" y="67.5" font-size="3.8" text-anchor="end" stroke="#000" stroke-width="0.12">100K</text><line x1="132.4" y1="63.120000000000005" x2="133.3" y2="63.120000000000005" stroke="#555" stroke-width="0.4"/><line x1="132.4" y1="60.040000000000006" x2="133.3" y2="60.040000000000006" stroke="#555" stroke-width="0.4"/><line x1="132.4" y1="56.96" x2="133.3" y2="56.96" stroke="#555" stroke-width="0.4"/><line x1="132.4" y1="53.88" x2="133.3" y2="53.88" stroke="#555" stroke-width="0.4"/><line x1="131.70000000000002" y1="50.8" x2="133.3" y2="50.8" stroke="#555" stroke-width="0.6"/><text x="130.4" y="52.099999999999994" font-size="3.8" text-anchor="end" stroke="#000" stroke-width="0.12">150K</text><line x1="132.4" y1="47.72" x2="133.3" y2="47.72" stroke="#555" stroke-width="0.4"/><line x1="132.4" y1="44.64" x2="133.3" y2="44.64" stroke="#555" stroke-width="0.4"/><line x1="132.4" y1="41.559999999999995" x2="133.3" y2="41.559999999999995" stroke="#555" stroke-width="0.4"/><line x1="132.4" y1="38.48" x2="133.3" y2="38.48" stroke="#555" stroke-width="0.4"/><line x1="131.70000000000002" y1="35.4" x2="133.3" y2="35.4" stroke="#555" stroke-width="0.6"/><text x="130.4" y="36.699999999999996" font-size="3.8" text-anchor="end" stroke="#000" stroke-width="0.12">200K</text><line x1="132.4" y1="32.32" x2="133.3" y2="32.32" stroke="#555" stroke-width="0.4"/><line x1="132.4" y1="29.24" x2="133.3" y2="29.24" stroke="#555" stroke-width="0.4"/><line x1="132.4" y1="26.159999999999997" x2="133.3" y2="26.159999999999997" stroke="#555" stroke-width="0.4"/><line x1="132.4" y1="23.08" x2="133.3" y2="23.08" stroke="#555" stroke-width="0.4"/><line x1="131.70000000000002" y1="20.0" x2="133.3" y2="20.0" stroke="#555" stroke-width="0.6"/><text x="130.4" y="21.3" font-size="3.8" text-anchor="end" stroke="#000" stroke-width="0.12">250K</text><line x1="132.4" y1="16.92" x2="133.3" y2="16.92" stroke="#555" stroke-width="0.4"/><line x1="133.3" y1="16.5" x2="133.3" y2="97" stroke="#555" stroke-width="0.7"/><line x1="142" y1="97" x2="142" y2="98.6" stroke="#555" stroke-width="0.6"/><text x="142" y="104.9" font-size="3.8" text-anchor="middle">0</text><line x1="152" y1="97" x2="152" y2="98.6" stroke="#555" stroke-width="0.6"/><text x="152.6" y="104.9" font-size="3.8" text-anchor="middle">10<tspan font-size="2.6" dy="-1.5">2</tspan></text><line x1="157.41853992195166" y1="97" x2="157.41853992195166" y2="97.9" stroke="#555" stroke-width="0.4"/><line x1="160.58818258495393" y1="97" x2="160.58818258495393" y2="97.9" stroke="#555" stroke-width="0.4"/><line x1="162.83707984390333" y1="97" x2="162.83707984390333" y2="97.9" stroke="#555" stroke-width="0.4"/><line x1="164.58146007804834" y1="97" x2="164.58146007804834" y2="97.9" stroke="#555" stroke-width="0.4"/><line x1="166.0067225069056" y1="97" x2="166.0067225069056" y2="97.9" stroke="#555" stroke-width="0.4"/><line x1="167.2117647202566" y1="97" x2="167.2117647202566" y2="97.9" stroke="#555" stroke-width="0.4"/><line x1="168.255619765855" y1="97" x2="168.255619765855" y2="97.9" stroke="#555" stroke-width="0.4"/><line x1="169.17636516990785" y1="97" x2="169.17636516990785" y2="97.9" stroke="#555" stroke-width="0.4"/><line x1="170" y1="97" x2="170" y2="98.6" stroke="#555" stroke-width="0.6"/><text x="170.6" y="104.9" font-size="3.8" text-anchor="middle">10<tspan font-size="2.6" dy="-1.5">3</tspan></text><line x1="175.41853992195166" y1="97" x2="175.41853992195166" y2="97.9" stroke="#555" stroke-width="0.4"/><line x1="178.58818258495393" y1="97" x2="178.58818258495393" y2="97.9" stroke="#555" stroke-width="0.4"/><line x1="180.83707984390333" y1="97" x2="180.83707984390333" y2="97.9" stroke="#555" stroke-width="0.4"/><line x1="182.58146007804834" y1="97" x2="182.58146007804834" y2="97.9" stroke="#555" stroke-width="0.4"/><line x1="184.0067225069056" y1="97" x2="184.0067225069056" y2="97.9" stroke="#555" stroke-width="0.4"/><line x1="185.2117647202566" y1="97" x2="185.2117647202566" y2="97.9" stroke="#555" stroke-width="0.4"/><line x1="186.255619765855" y1="97" x2="186.255619765855" y2="97.9" stroke="#555" stroke-width="0.4"/><line x1="187.17636516990785" y1="97" x2="187.17636516990785" y2="97.9" stroke="#555" stroke-width="0.4"/><line x1="188" y1="97" x2="188" y2="98.6" stroke="#555" stroke-width="0.6"/><text x="188.6" y="104.9" font-size="3.8" text-anchor="middle">10<tspan font-size="2.6" dy="-1.5">4</tspan></text><line x1="193.41853992195166" y1="97" x2="193.41853992195166" y2="97.9" stroke="#555" stroke-width="0.4"/><line x1="196.58818258495393" y1="97" x2="196.58818258495393" y2="97.9" stroke="#555" stroke-width="0.4"/><line x1="198.83707984390333" y1="97" x2="198.83707984390333" y2="97.9" stroke="#555" stroke-width="0.4"/><line x1="200.58146007804834" y1="97" x2="200.58146007804834" y2="97.9" stroke="#555" stroke-width="0.4"/><line x1="202.0067225069056" y1="97" x2="202.0067225069056" y2="97.9" stroke="#555" stroke-width="0.4"/><line x1="203.2117647202566" y1="97" x2="203.2117647202566" y2="97.9" stroke="#555" stroke-width="0.4"/><line x1="204.255619765855" y1="97" x2="204.255619765855" y2="97.9" stroke="#555" stroke-width="0.4"/><line x1="205.17636516990785" y1="97" x2="205.17636516990785" y2="97.9" stroke="#555" stroke-width="0.4"/><line x1="206" y1="97" x2="206" y2="98.6" stroke="#555" stroke-width="0.6"/><text x="206.6" y="104.9" font-size="3.8" text-anchor="middle">10<tspan font-size="2.6" dy="-1.5">5</tspan></text><line x1="133.3" y1="97" x2="214" y2="97" stroke="#555" stroke-width="0.7"/><text x="119.7" y="56.5" font-size="5.6" font-weight="bold" text-anchor="middle" stroke="#000" stroke-width="0.12" transform="rotate(-90 119.7 56.5)" textLength="16" lengthAdjust="spacingAndGlyphs">SSC-A</text><text x="173.3" y="110.6" font-size="5.6" font-weight="bold" text-anchor="middle" textLength="46.8" lengthAdjust="spacingAndGlyphs" stroke="#000" stroke-width="0.12">CD45 Pacific Blue</text><rect x="157.7" y="74.3" width="55.900000000000006" height="22.700000000000003" fill="none" stroke="#6e6e6e" stroke-width="1.3"/><rect x="133.5" y="86.5" width="23.5" height="8" fill="none" stroke="#999" stroke-width="0.6" stroke-dasharray="1 0.6"/><text x="202.4" y="93.2" font-size="6.6" font-weight="bold" stroke="#000" stroke-width="0.25">79</text><path d="M208.5 74.3 L208.5 81.5 L252.0 81.5" stroke="#111" stroke-width="0.9" fill="none"/><path d="M257.0 81.5 L252.0 79.5 L252.0 83.5 Z" fill="#111"/><rect x="234.8" y="17" width="81.69999999999999" height="79.6" fill="none" stroke="#8a8a8a" stroke-width="0.8"/><line x1="233.20000000000002" y1="88.3" x2="234.8" y2="88.3" stroke="#555" stroke-width="0.6"/><text x="232.4" y="89.6" font-size="3.8" text-anchor="end">0</text><line x1="233.20000000000002" y1="78.6" x2="234.8" y2="78.6" stroke="#555" stroke-width="0.6"/><text x="232.0" y="81.19999999999999" font-size="3.8" text-anchor="end" fill="#444">10<tspan font-size="2.6" dy="-1.5">2</tspan></text><line x1="233.9" y1="72.94063608151716" x2="234.8" y2="72.94063608151716" stroke="#555" stroke-width="0.4"/><line x1="233.9" y1="69.63012041127034" x2="234.8" y2="69.63012041127034" stroke="#555" stroke-width="0.4"/><line x1="233.9" y1="67.2812721630343" x2="234.8" y2="67.2812721630343" stroke="#555" stroke-width="0.4"/><line x1="233.9" y1="65.45936391848284" x2="234.8" y2="65.45936391848284" stroke="#555" stroke-width="0.4"/><line x1="233.9" y1="63.970756492787494" x2="234.8" y2="63.970756492787494" stroke="#555" stroke-width="0.4"/><line x1="233.9" y1="62.71215684773197" x2="234.8" y2="62.71215684773197" stroke="#555" stroke-width="0.4"/><line x1="233.9" y1="61.62190824455146" x2="234.8" y2="61.62190824455146" stroke="#555" stroke-width="0.4"/><line x1="233.9" y1="60.660240822540686" x2="234.8" y2="60.660240822540686" stroke="#555" stroke-width="0.4"/><line x1="233.20000000000002" y1="59.8" x2="234.8" y2="59.8" stroke="#555" stroke-width="0.6"/><text x="232.0" y="62.4" font-size="3.8" text-anchor="end" fill="#444">10<tspan font-size="2.6" dy="-1.5">3</tspan></text><line x1="233.9" y1="54.14063608151715" x2="234.8" y2="54.14063608151715" stroke="#555" stroke-width="0.4"/><line x1="233.9" y1="50.83012041127034" x2="234.8" y2="50.83012041127034" stroke="#555" stroke-width="0.4"/><line x1="233.9" y1="48.481272163034305" x2="234.8" y2="48.481272163034305" stroke="#555" stroke-width="0.4"/><line x1="233.9" y1="46.659363918482846" x2="234.8" y2="46.659363918482846" stroke="#555" stroke-width="0.4"/><line x1="233.9" y1="45.1707564927875" x2="234.8" y2="45.1707564927875" stroke="#555" stroke-width="0.4"/><line x1="233.9" y1="43.91215684773197" x2="234.8" y2="43.91215684773197" stroke="#555" stroke-width="0.4"/><line x1="233.9" y1="42.821908244551466" x2="234.8" y2="42.821908244551466" stroke="#555" stroke-width="0.4"/><line x1="233.9" y1="41.86024082254069" x2="234.8" y2="41.86024082254069" stroke="#555" stroke-width="0.4"/><line x1="233.20000000000002" y1="41" x2="234.8" y2="41" stroke="#555" stroke-width="0.6"/><text x="232.0" y="43.6" font-size="3.8" text-anchor="end" fill="#444">10<tspan font-size="2.6" dy="-1.5">4</tspan></text><line x1="233.9" y1="35.641666077181135" x2="234.8" y2="35.641666077181135" stroke="#555" stroke-width="0.4"/><line x1="233.9" y1="32.50724166599001" x2="234.8" y2="32.50724166599001" stroke="#555" stroke-width="0.4"/><line x1="233.9" y1="30.28333215436227" x2="234.8" y2="30.28333215436227" stroke="#555" stroke-width="0.4"/><line x1="233.9" y1="28.558333922818864" x2="234.8" y2="28.558333922818864" stroke="#555" stroke-width="0.4"/><line x1="233.9" y1="27.148907743171144" x2="234.8" y2="27.148907743171144" stroke="#555" stroke-width="0.4"/><line x1="233.9" y1="25.957254887746227" x2="234.8" y2="25.957254887746227" stroke="#555" stroke-width="0.4"/><line x1="233.9" y1="24.924998231543405" x2="234.8" y2="24.924998231543405" stroke="#555" stroke-width="0.4"/><line x1="233.9" y1="24.014483331980017" x2="234.8" y2="24.014483331980017" stroke="#555" stroke-width="0.4"/><line x1="233.20000000000002" y1="23.2" x2="234.8" y2="23.2" stroke="#555" stroke-width="0.6"/><text x="232.0" y="25.8" font-size="3.8" text-anchor="end" fill="#444">10<tspan font-size="2.6" dy="-1.5">5</tspan></text><line x1="234.8" y1="17" x2="234.8" y2="96.6" stroke="#555" stroke-width="0.7"/><line x1="244" y1="96.6" x2="244" y2="98.19999999999999" stroke="#555" stroke-width="0.6"/><text x="244" y="104.5" font-size="3.8" text-anchor="middle">0</text><line x1="252" y1="96.6" x2="252" y2="98.19999999999999" stroke="#555" stroke-width="0.6"/><text x="252.6" y="104.5" font-size="3.8" text-anchor="middle">10<tspan font-size="2.6" dy="-1.5">2</tspan></text><line x1="258.0205999132796" y1="96.6" x2="258.0205999132796" y2="97.5" stroke="#555" stroke-width="0.4"/><line x1="261.54242509439325" y1="96.6" x2="261.54242509439325" y2="97.5" stroke="#555" stroke-width="0.4"/><line x1="264.04119982655925" y1="96.6" x2="264.04119982655925" y2="97.5" stroke="#555" stroke-width="0.4"/><line x1="265.9794000867204" y1="96.6" x2="265.9794000867204" y2="97.5" stroke="#555" stroke-width="0.4"/><line x1="267.5630250076729" y1="96.6" x2="267.5630250076729" y2="97.5" stroke="#555" stroke-width="0.4"/><line x1="268.9019608002851" y1="96.6" x2="268.9019608002851" y2="97.5" stroke="#555" stroke-width="0.4"/><line x1="270.0617997398389" y1="96.6" x2="270.0617997398389" y2="97.5" stroke="#555" stroke-width="0.4"/><line x1="271.0848501887865" y1="96.6" x2="271.0848501887865" y2="97.5" stroke="#555" stroke-width="0.4"/><line x1="272" y1="96.6" x2="272" y2="98.19999999999999" stroke="#555" stroke-width="0.6"/><text x="272.6" y="104.5" font-size="3.8" text-anchor="middle">10<tspan font-size="2.6" dy="-1.5">3</tspan></text><line x1="277.41853992195166" y1="96.6" x2="277.41853992195166" y2="97.5" stroke="#555" stroke-width="0.4"/><line x1="280.5881825849539" y1="96.6" x2="280.5881825849539" y2="97.5" stroke="#555" stroke-width="0.4"/><line x1="282.8370798439033" y1="96.6" x2="282.8370798439033" y2="97.5" stroke="#555" stroke-width="0.4"/><line x1="284.58146007804834" y1="96.6" x2="284.58146007804834" y2="97.5" stroke="#555" stroke-width="0.4"/><line x1="286.0067225069056" y1="96.6" x2="286.0067225069056" y2="97.5" stroke="#555" stroke-width="0.4"/><line x1="287.2117647202566" y1="96.6" x2="287.2117647202566" y2="97.5" stroke="#555" stroke-width="0.4"/><line x1="288.255619765855" y1="96.6" x2="288.255619765855" y2="97.5" stroke="#555" stroke-width="0.4"/><line x1="289.17636516990785" y1="96.6" x2="289.17636516990785" y2="97.5" stroke="#555" stroke-width="0.4"/><line x1="290" y1="96.6" x2="290" y2="98.19999999999999" stroke="#555" stroke-width="0.6"/><text x="290.6" y="104.5" font-size="3.8" text-anchor="middle">10<tspan font-size="2.6" dy="-1.5">4</tspan></text><line x1="295.41853992195166" y1="96.6" x2="295.41853992195166" y2="97.5" stroke="#555" stroke-width="0.4"/><line x1="298.5881825849539" y1="96.6" x2="298.5881825849539" y2="97.5" stroke="#555" stroke-width="0.4"/><line x1="300.8370798439033" y1="96.6" x2="300.8370798439033" y2="97.5" stroke="#555" stroke-width="0.4"/><line x1="302.58146007804834" y1="96.6" x2="302.58146007804834" y2="97.5" stroke="#555" stroke-width="0.4"/><line x1="304.0067225069056" y1="96.6" x2="304.0067225069056" y2="97.5" stroke="#555" stroke-width="0.4"/><line x1="305.2117647202566" y1="96.6" x2="305.2117647202566" y2="97.5" stroke="#555" stroke-width="0.4"/><line x1="306.255619765855" y1="96.6" x2="306.255619765855" y2="97.5" stroke="#555" stroke-width="0.4"/><line x1="307.17636516990785" y1="96.6" x2="307.17636516990785" y2="97.5" stroke="#555" stroke-width="0.4"/><line x1="308" y1="96.6" x2="308" y2="98.19999999999999" stroke="#555" stroke-width="0.6"/><text x="308.6" y="104.5" font-size="3.8" text-anchor="middle">10<tspan font-size="2.6" dy="-1.5">5</tspan></text><line x1="234.8" y1="96.6" x2="316.5" y2="96.6" stroke="#555" stroke-width="0.7"/><text x="224.6" y="57" font-size="5.6" font-weight="bold" text-anchor="middle" stroke="#000" stroke-width="0.12" transform="rotate(-90 224.6 57)" textLength="47.7" lengthAdjust="spacingAndGlyphs">CD45 Pacific Blue</text><text x="274.5" y="110.6" font-size="5.6" font-weight="bold" text-anchor="middle" textLength="19.5" lengthAdjust="spacingAndGlyphs" stroke="#000" stroke-width="0.12">CD7 PE</text><rect x="261" y="19.1" width="53.60000000000002" height="62.9" fill="none" stroke="#6e6e6e" stroke-width="1.3"/><text x="297.8" y="34.4" font-size="6.6" font-weight="bold" stroke="#000" stroke-width="0.25">66</text><path d="M307.3 82 L307.3 86.3 L345 86.3" stroke="#111" stroke-width="1.0" fill="none"/><rect x="336" y="17" width="80.60000000000002" height="80" fill="none" stroke="#8a8a8a" stroke-width="0.8"/><line x1="334.4" y1="97.0" x2="336" y2="97.0" stroke="#555" stroke-width="0.6"/><text x="333.1" y="98.3" font-size="3.8" text-anchor="end" stroke="#000" stroke-width="0.12">0</text><line x1="335.1" y1="93.92" x2="336" y2="93.92" stroke="#555" stroke-width="0.4"/><line x1="335.1" y1="90.84" x2="336" y2="90.84" stroke="#555" stroke-width="0.4"/><line x1="335.1" y1="87.76" x2="336" y2="87.76" stroke="#555" stroke-width="0.4"/><line x1="335.1" y1="84.68" x2="336" y2="84.68" stroke="#555" stroke-width="0.4"/><line x1="334.4" y1="81.6" x2="336" y2="81.6" stroke="#555" stroke-width="0.6"/><text x="333.1" y="82.89999999999999" font-size="3.8" text-anchor="end" stroke="#000" stroke-width="0.12">50K</text><line x1="335.1" y1="78.52" x2="336" y2="78.52" stroke="#555" stroke-width="0.4"/><line x1="335.1" y1="75.44" x2="336" y2="75.44" stroke="#555" stroke-width="0.4"/><line x1="335.1" y1="72.36" x2="336" y2="72.36" stroke="#555" stroke-width="0.4"/><line x1="335.1" y1="69.28" x2="336" y2="69.28" stroke="#555" stroke-width="0.4"/><line x1="334.4" y1="66.2" x2="336" y2="66.2" stroke="#555" stroke-width="0.6"/><text x="333.1" y="67.5" font-size="3.8" text-anchor="end" stroke="#000" stroke-width="0.12">100K</text><line x1="335.1" y1="63.120000000000005" x2="336" y2="63.120000000000005" stroke="#555" stroke-width="0.4"/><line x1="335.1" y1="60.040000000000006" x2="336" y2="60.040000000000006" stroke="#555" stroke-width="0.4"/><line x1="335.1" y1="56.96" x2="336" y2="56.96" stroke="#555" stroke-width="0.4"/><line x1="335.1" y1="53.88" x2="336" y2="53.88" stroke="#555" stroke-width="0.4"/><line x1="334.4" y1="50.8" x2="336" y2="50.8" stroke="#555" stroke-width="0.6"/><text x="333.1" y="52.099999999999994" font-size="3.8" text-anchor="end" stroke="#000" stroke-width="0.12">150K</text><line x1="335.1" y1="47.72" x2="336" y2="47.72" stroke="#555" stroke-width="0.4"/><line x1="335.1" y1="44.64" x2="336" y2="44.64" stroke="#555" stroke-width="0.4"/><line x1="335.1" y1="41.559999999999995" x2="336" y2="41.559999999999995" stroke="#555" stroke-width="0.4"/><line x1="335.1" y1="38.48" x2="336" y2="38.48" stroke="#555" stroke-width="0.4"/><line x1="334.4" y1="35.4" x2="336" y2="35.4" stroke="#555" stroke-width="0.6"/><text x="333.1" y="36.699999999999996" font-size="3.8" text-anchor="end" stroke="#000" stroke-width="0.12">200K</text><line x1="335.1" y1="32.32" x2="336" y2="32.32" stroke="#555" stroke-width="0.4"/><line x1="335.1" y1="29.24" x2="336" y2="29.24" stroke="#555" stroke-width="0.4"/><line x1="335.1" y1="26.159999999999997" x2="336" y2="26.159999999999997" stroke="#555" stroke-width="0.4"/><line x1="335.1" y1="23.08" x2="336" y2="23.08" stroke="#555" stroke-width="0.4"/><line x1="334.4" y1="20.0" x2="336" y2="20.0" stroke="#555" stroke-width="0.6"/><text x="333.1" y="21.3" font-size="3.8" text-anchor="end" stroke="#000" stroke-width="0.12">250K</text><line x1="336" y1="17" x2="336" y2="97" stroke="#555" stroke-width="0.7"/><line x1="336.0" y1="97" x2="336.0" y2="98.6" stroke="#555" stroke-width="0.6"/><text x="336.0" y="104.9" font-size="3.8" text-anchor="middle" stroke="#000" stroke-width="0.12">0</text><line x1="339.06" y1="97" x2="339.06" y2="97.9" stroke="#555" stroke-width="0.4"/><line x1="342.12" y1="97" x2="342.12" y2="97.9" stroke="#555" stroke-width="0.4"/><line x1="345.18" y1="97" x2="345.18" y2="97.9" stroke="#555" stroke-width="0.4"/><line x1="348.24" y1="97" x2="348.24" y2="97.9" stroke="#555" stroke-width="0.4"/><line x1="351.3" y1="97" x2="351.3" y2="98.6" stroke="#555" stroke-width="0.6"/><text x="351.3" y="104.9" font-size="3.8" text-anchor="middle" stroke="#000" stroke-width="0.12">50K</text><line x1="354.36" y1="97" x2="354.36" y2="97.9" stroke="#555" stroke-width="0.4"/><line x1="357.42" y1="97" x2="357.42" y2="97.9" stroke="#555" stroke-width="0.4"/><line x1="360.48" y1="97" x2="360.48" y2="97.9" stroke="#555" stroke-width="0.4"/><line x1="363.54" y1="97" x2="363.54" y2="97.9" stroke="#555" stroke-width="0.4"/><line x1="366.6" y1="97" x2="366.6" y2="98.6" stroke="#555" stroke-width="0.6"/><text x="366.6" y="104.9" font-size="3.8" text-anchor="middle" stroke="#000" stroke-width="0.12">100K</text><line x1="369.66" y1="97" x2="369.66" y2="97.9" stroke="#555" stroke-width="0.4"/><line x1="372.72" y1="97" x2="372.72" y2="97.9" stroke="#555" stroke-width="0.4"/><line x1="375.78000000000003" y1="97" x2="375.78000000000003" y2="97.9" stroke="#555" stroke-width="0.4"/><line x1="378.84000000000003" y1="97" x2="378.84000000000003" y2="97.9" stroke="#555" stroke-width="0.4"/><line x1="381.9" y1="97" x2="381.9" y2="98.6" stroke="#555" stroke-width="0.6"/><text x="381.9" y="104.9" font-size="3.8" text-anchor="middle" stroke="#000" stroke-width="0.12">150K</text><line x1="384.96" y1="97" x2="384.96" y2="97.9" stroke="#555" stroke-width="0.4"/><line x1="388.02" y1="97" x2="388.02" y2="97.9" stroke="#555" stroke-width="0.4"/><line x1="391.08" y1="97" x2="391.08" y2="97.9" stroke="#555" stroke-width="0.4"/><line x1="394.14" y1="97" x2="394.14" y2="97.9" stroke="#555" stroke-width="0.4"/><line x1="397.2" y1="97" x2="397.2" y2="98.6" stroke="#555" stroke-width="0.6"/><text x="397.2" y="104.9" font-size="3.8" text-anchor="middle" stroke="#000" stroke-width="0.12">200K</text><line x1="400.26" y1="97" x2="400.26" y2="97.9" stroke="#555" stroke-width="0.4"/><line x1="403.32" y1="97" x2="403.32" y2="97.9" stroke="#555" stroke-width="0.4"/><line x1="406.38" y1="97" x2="406.38" y2="97.9" stroke="#555" stroke-width="0.4"/><line x1="409.44" y1="97" x2="409.44" y2="97.9" stroke="#555" stroke-width="0.4"/><line x1="412.5" y1="97" x2="412.5" y2="98.6" stroke="#555" stroke-width="0.6"/><text x="412.5" y="104.9" font-size="3.8" text-anchor="middle" stroke="#000" stroke-width="0.12">250K</text><line x1="415.56" y1="97" x2="415.56" y2="97.9" stroke="#555" stroke-width="0.4"/><line x1="336" y1="97" x2="416.6" y2="97" stroke="#555" stroke-width="0.7"/><text x="321.4" y="56.8" font-size="5.6" font-weight="bold" text-anchor="middle" stroke="#000" stroke-width="0.12" transform="rotate(-90 321.4 56.8)" textLength="16" lengthAdjust="spacingAndGlyphs">SSC-A</text><text x="377" y="110.6" font-size="5.6" font-weight="bold" text-anchor="middle" textLength="17" lengthAdjust="spacingAndGlyphs" stroke="#000" stroke-width="0.12">FSC-A</text><text x="372.6" y="93.2" font-size="6.6" font-weight="bold" stroke="#000" stroke-width="0.25">50</text><path d="M316 86.3 L339.8 86.3" stroke="#111" stroke-width="0.9" fill="none"/><path d="M344.8 86.3 L339.8 84.3 L339.8 88.3 Z" fill="#111"/><path d="M360 76.5 L360 29.4 L420 29.4" stroke="#333" stroke-width="1.3" fill="none"/><path d="M419 29.4 L428.8 29.4" stroke="#111" stroke-width="1.3" fill="none"/><path d="M433.8 29.4 L428.8 27.4 L428.8 31.4 Z" fill="#111"/><rect x="437.8" y="17" width="74.99999999999994" height="80" fill="none" stroke="#8a8a8a" stroke-width="0.8"/><line x1="436.2" y1="88.6" x2="437.8" y2="88.6" stroke="#555" stroke-width="0.6"/><text x="435.40000000000003" y="89.89999999999999" font-size="3.8" text-anchor="end">0</text><line x1="436.2" y1="78.6" x2="437.8" y2="78.6" stroke="#555" stroke-width="0.6"/><text x="435.0" y="81.19999999999999" font-size="3.8" text-anchor="end" fill="#444">10<tspan font-size="2.6" dy="-1.5">2</tspan></text><line x1="436.90000000000003" y1="72.88043008238435" x2="437.8" y2="72.88043008238435" stroke="#555" stroke-width="0.4"/><line x1="436.90000000000003" y1="69.5346961603264" x2="437.8" y2="69.5346961603264" stroke="#555" stroke-width="0.4"/><line x1="436.90000000000003" y1="67.1608601647687" x2="437.8" y2="67.1608601647687" stroke="#555" stroke-width="0.4"/><line x1="436.90000000000003" y1="65.31956991761564" x2="437.8" y2="65.31956991761564" stroke="#555" stroke-width="0.4"/><line x1="436.90000000000003" y1="63.81512624271077" x2="437.8" y2="63.81512624271077" stroke="#555" stroke-width="0.4"/><line x1="436.90000000000003" y1="62.54313723972912" x2="437.8" y2="62.54313723972912" stroke="#555" stroke-width="0.4"/><line x1="436.90000000000003" y1="61.44129024715308" x2="437.8" y2="61.44129024715308" stroke="#555" stroke-width="0.4"/><line x1="436.90000000000003" y1="60.46939232065283" x2="437.8" y2="60.46939232065283" stroke="#555" stroke-width="0.4"/><line x1="436.2" y1="59.6" x2="437.8" y2="59.6" stroke="#555" stroke-width="0.6"/><text x="435.0" y="62.2" font-size="3.8" text-anchor="end" fill="#444">10<tspan font-size="2.6" dy="-1.5">3</tspan></text><line x1="436.90000000000003" y1="54.00084208064995" x2="437.8" y2="54.00084208064995" stroke="#555" stroke-width="0.4"/><line x1="436.90000000000003" y1="50.725544662214276" x2="437.8" y2="50.725544662214276" stroke="#555" stroke-width="0.4"/><line x1="436.90000000000003" y1="48.4016841612999" x2="437.8" y2="48.4016841612999" stroke="#555" stroke-width="0.4"/><line x1="436.90000000000003" y1="46.59915791935005" x2="437.8" y2="46.59915791935005" stroke="#555" stroke-width="0.4"/><line x1="436.90000000000003" y1="45.12638674286423" x2="437.8" y2="45.12638674286423" stroke="#555" stroke-width="0.4"/><line x1="436.90000000000003" y1="43.881176455734824" x2="437.8" y2="43.881176455734824" stroke="#555" stroke-width="0.4"/><line x1="436.90000000000003" y1="42.80252624194985" x2="437.8" y2="42.80252624194985" stroke="#555" stroke-width="0.4"/><line x1="436.90000000000003" y1="41.85108932442856" x2="437.8" y2="41.85108932442856" stroke="#555" stroke-width="0.4"/><line x1="436.2" y1="41" x2="437.8" y2="41" stroke="#555" stroke-width="0.6"/><text x="435.0" y="43.6" font-size="3.8" text-anchor="end" fill="#444">10<tspan font-size="2.6" dy="-1.5">4</tspan></text><line x1="436.90000000000003" y1="35.58146007804834" x2="437.8" y2="35.58146007804834" stroke="#555" stroke-width="0.4"/><line x1="436.90000000000003" y1="32.41181741504607" x2="437.8" y2="32.41181741504607" stroke="#555" stroke-width="0.4"/><line x1="436.90000000000003" y1="30.162920156096675" x2="437.8" y2="30.162920156096675" stroke="#555" stroke-width="0.4"/><line x1="436.90000000000003" y1="28.418539921951663" x2="437.8" y2="28.418539921951663" stroke="#555" stroke-width="0.4"/><line x1="436.90000000000003" y1="26.993277493094414" x2="437.8" y2="26.993277493094414" stroke="#555" stroke-width="0.4"/><line x1="436.90000000000003" y1="25.788235279743375" x2="437.8" y2="25.788235279743375" stroke="#555" stroke-width="0.4"/><line x1="436.90000000000003" y1="24.744380234145016" x2="437.8" y2="24.744380234145016" stroke="#555" stroke-width="0.4"/><line x1="436.90000000000003" y1="23.823634830092153" x2="437.8" y2="23.823634830092153" stroke="#555" stroke-width="0.4"/><line x1="436.2" y1="23" x2="437.8" y2="23" stroke="#555" stroke-width="0.6"/><text x="435.0" y="25.6" font-size="3.8" text-anchor="end" fill="#444">10<tspan font-size="2.6" dy="-1.5">5</tspan></text><line x1="437.8" y1="17" x2="437.8" y2="97" stroke="#555" stroke-width="0.7"/><line x1="447.3" y1="97" x2="447.3" y2="98.6" stroke="#555" stroke-width="0.6"/><text x="447.3" y="104.9" font-size="3.8" text-anchor="middle">0</text><line x1="455.3" y1="97" x2="455.3" y2="98.6" stroke="#555" stroke-width="0.6"/><text x="455.90000000000003" y="104.9" font-size="3.8" text-anchor="middle">10<tspan font-size="2.6" dy="-1.5">2</tspan></text><line x1="460.98946691804923" y1="97" x2="460.98946691804923" y2="97.9" stroke="#555" stroke-width="0.4"/><line x1="464.3175917142016" y1="97" x2="464.3175917142016" y2="97.9" stroke="#555" stroke-width="0.4"/><line x1="466.6789338360985" y1="97" x2="466.6789338360985" y2="97.9" stroke="#555" stroke-width="0.4"/><line x1="468.51053308195077" y1="97" x2="468.51053308195077" y2="97.9" stroke="#555" stroke-width="0.4"/><line x1="470.00705863225085" y1="97" x2="470.00705863225085" y2="97.9" stroke="#555" stroke-width="0.4"/><line x1="471.27235295626946" y1="97" x2="471.27235295626946" y2="97.9" stroke="#555" stroke-width="0.4"/><line x1="472.36840075414773" y1="97" x2="472.36840075414773" y2="97.9" stroke="#555" stroke-width="0.4"/><line x1="473.33518342840324" y1="97" x2="473.33518342840324" y2="97.9" stroke="#555" stroke-width="0.4"/><line x1="474.2" y1="97" x2="474.2" y2="98.6" stroke="#555" stroke-width="0.6"/><text x="474.8" y="104.9" font-size="3.8" text-anchor="middle">10<tspan font-size="2.6" dy="-1.5">3</tspan></text><line x1="479.8593639184828" y1="97" x2="479.8593639184828" y2="97.9" stroke="#555" stroke-width="0.4"/><line x1="483.16987958872966" y1="97" x2="483.16987958872966" y2="97.9" stroke="#555" stroke-width="0.4"/><line x1="485.5187278369657" y1="97" x2="485.5187278369657" y2="97.9" stroke="#555" stroke-width="0.4"/><line x1="487.3406360815172" y1="97" x2="487.3406360815172" y2="97.9" stroke="#555" stroke-width="0.4"/><line x1="488.8292435072125" y1="97" x2="488.8292435072125" y2="97.9" stroke="#555" stroke-width="0.4"/><line x1="490.087843152268" y1="97" x2="490.087843152268" y2="97.9" stroke="#555" stroke-width="0.4"/><line x1="491.1780917554485" y1="97" x2="491.1780917554485" y2="97.9" stroke="#555" stroke-width="0.4"/><line x1="492.1397591774593" y1="97" x2="492.1397591774593" y2="97.9" stroke="#555" stroke-width="0.4"/><line x1="493" y1="97" x2="493" y2="98.6" stroke="#555" stroke-width="0.6"/><text x="493.6" y="104.9" font-size="3.8" text-anchor="middle">10<tspan font-size="2.6" dy="-1.5">4</tspan></text><line x1="498.56905491978364" y1="97" x2="498.56905491978364" y2="97.9" stroke="#555" stroke-width="0.4"/><line x1="501.8267432123138" y1="97" x2="501.8267432123138" y2="97.9" stroke="#555" stroke-width="0.4"/><line x1="504.1381098395673" y1="97" x2="504.1381098395673" y2="97.9" stroke="#555" stroke-width="0.4"/><line x1="505.93094508021636" y1="97" x2="505.93094508021636" y2="97.9" stroke="#555" stroke-width="0.4"/><line x1="507.3957981320974" y1="97" x2="507.3957981320974" y2="97.9" stroke="#555" stroke-width="0.4"/><line x1="508.63431374026374" y1="97" x2="508.63431374026374" y2="97.9" stroke="#555" stroke-width="0.4"/><line x1="509.707164759351" y1="97" x2="509.707164759351" y2="97.9" stroke="#555" stroke-width="0.4"/><line x1="510.6534864246275" y1="97" x2="510.6534864246275" y2="97.9" stroke="#555" stroke-width="0.4"/><line x1="511.5" y1="97" x2="511.5" y2="98.6" stroke="#555" stroke-width="0.6"/><text x="512.1" y="104.9" font-size="3.8" text-anchor="middle">10<tspan font-size="2.6" dy="-1.5">5</tspan></text><line x1="437.8" y1="97" x2="512.8" y2="97" stroke="#555" stroke-width="0.7"/><text x="428.5" y="57" font-size="5.6" font-weight="bold" text-anchor="middle" stroke="#000" stroke-width="0.12" transform="rotate(-90 428.5 57)" textLength="33" lengthAdjust="spacingAndGlyphs">CD56 PECy7</text><text x="477.5" y="110.6" font-size="5.6" font-weight="bold" text-anchor="middle" textLength="24" lengthAdjust="spacingAndGlyphs" stroke="#000" stroke-width="0.12">CD3 ECD</text><rect x="438.2" y="17.3" width="31.80000000000001" height="37.7" fill="none" stroke="#6e6e6e" stroke-width="1.3"/><rect x="473.3" y="17.3" width="38.39999999999998" height="37.7" fill="none" stroke="#6e6e6e" stroke-width="1.3"/><rect x="471.2" y="56.3" width="40.80000000000001" height="40.7" fill="none" stroke="#6e6e6e" stroke-width="1.3"/><text x="461.3" y="26.3" font-size="6.6" font-weight="bold" stroke="#000" stroke-width="0.25">6</text><text x="496.8" y="26.6" font-size="6.6" font-weight="bold" stroke="#000" stroke-width="0.25">0.5</text><text x="500" y="93.2" font-size="6.6" font-weight="bold" stroke="#000" stroke-width="0.25">42</text><rect x="30.6" y="141" width="79.4" height="80" fill="none" stroke="#8a8a8a" stroke-width="0.8"/><line x1="29.0" y1="221.0" x2="30.6" y2="221.0" stroke="#555" stroke-width="0.6"/><text x="27.700000000000003" y="222.3" font-size="3.8" text-anchor="end" stroke="#000" stroke-width="0.12">0</text><line x1="29.700000000000003" y1="217.92" x2="30.6" y2="217.92" stroke="#555" stroke-width="0.4"/><line x1="29.700000000000003" y1="214.84" x2="30.6" y2="214.84" stroke="#555" stroke-width="0.4"/><line x1="29.700000000000003" y1="211.76" x2="30.6" y2="211.76" stroke="#555" stroke-width="0.4"/><line x1="29.700000000000003" y1="208.68" x2="30.6" y2="208.68" stroke="#555" stroke-width="0.4"/><line x1="29.0" y1="205.6" x2="30.6" y2="205.6" stroke="#555" stroke-width="0.6"/><text x="27.700000000000003" y="206.9" font-size="3.8" text-anchor="end" stroke="#000" stroke-width="0.12">50K</text><line x1="29.700000000000003" y1="202.51999999999998" x2="30.6" y2="202.51999999999998" stroke="#555" stroke-width="0.4"/><line x1="29.700000000000003" y1="199.44" x2="30.6" y2="199.44" stroke="#555" stroke-width="0.4"/><line x1="29.700000000000003" y1="196.35999999999999" x2="30.6" y2="196.35999999999999" stroke="#555" stroke-width="0.4"/><line x1="29.700000000000003" y1="193.28" x2="30.6" y2="193.28" stroke="#555" stroke-width="0.4"/><line x1="29.0" y1="190.2" x2="30.6" y2="190.2" stroke="#555" stroke-width="0.6"/><text x="27.700000000000003" y="191.5" font-size="3.8" text-anchor="end" stroke="#000" stroke-width="0.12">100K</text><line x1="29.700000000000003" y1="187.11999999999998" x2="30.6" y2="187.11999999999998" stroke="#555" stroke-width="0.4"/><line x1="29.700000000000003" y1="184.04" x2="30.6" y2="184.04" stroke="#555" stroke-width="0.4"/><line x1="29.700000000000003" y1="180.95999999999998" x2="30.6" y2="180.95999999999998" stroke="#555" stroke-width="0.4"/><line x1="29.700000000000003" y1="177.88" x2="30.6" y2="177.88" stroke="#555" stroke-width="0.4"/><line x1="29.0" y1="174.8" x2="30.6" y2="174.8" stroke="#555" stroke-width="0.6"/><text x="27.700000000000003" y="176.10000000000002" font-size="3.8" text-anchor="end" stroke="#000" stroke-width="0.12">150K</text><line x1="29.700000000000003" y1="171.72" x2="30.6" y2="171.72" stroke="#555" stroke-width="0.4"/><line x1="29.700000000000003" y1="168.64000000000001" x2="30.6" y2="168.64000000000001" stroke="#555" stroke-width="0.4"/><line x1="29.700000000000003" y1="165.56" x2="30.6" y2="165.56" stroke="#555" stroke-width="0.4"/><line x1="29.700000000000003" y1="162.48000000000002" x2="30.6" y2="162.48000000000002" stroke="#555" stroke-width="0.4"/><line x1="29.0" y1="159.4" x2="30.6" y2="159.4" stroke="#555" stroke-width="0.6"/><text x="27.700000000000003" y="160.70000000000002" font-size="3.8" text-anchor="end" stroke="#000" stroke-width="0.12">200K</text><line x1="29.700000000000003" y1="156.32" x2="30.6" y2="156.32" stroke="#555" stroke-width="0.4"/><line x1="29.700000000000003" y1="153.24" x2="30.6" y2="153.24" stroke="#555" stroke-width="0.4"/><line x1="29.700000000000003" y1="150.16" x2="30.6" y2="150.16" stroke="#555" stroke-width="0.4"/><line x1="29.700000000000003" y1="147.08" x2="30.6" y2="147.08" stroke="#555" stroke-width="0.4"/><line x1="29.0" y1="144.0" x2="30.6" y2="144.0" stroke="#555" stroke-width="0.6"/><text x="27.700000000000003" y="145.3" font-size="3.8" text-anchor="end" stroke="#000" stroke-width="0.12">250K</text><line x1="30.6" y1="141" x2="30.6" y2="221" stroke="#555" stroke-width="0.7"/><line x1="30.6" y1="221" x2="30.6" y2="222.6" stroke="#555" stroke-width="0.6"/><text x="30.6" y="228.9" font-size="3.8" text-anchor="middle" stroke="#000" stroke-width="0.12">0</text><line x1="33.660000000000004" y1="221" x2="33.660000000000004" y2="221.9" stroke="#555" stroke-width="0.4"/><line x1="36.72" y1="221" x2="36.72" y2="221.9" stroke="#555" stroke-width="0.4"/><line x1="39.78" y1="221" x2="39.78" y2="221.9" stroke="#555" stroke-width="0.4"/><line x1="42.84" y1="221" x2="42.84" y2="221.9" stroke="#555" stroke-width="0.4"/><line x1="45.900000000000006" y1="221" x2="45.900000000000006" y2="222.6" stroke="#555" stroke-width="0.6"/><text x="45.900000000000006" y="228.9" font-size="3.8" text-anchor="middle" stroke="#000" stroke-width="0.12">50K</text><line x1="48.96000000000001" y1="221" x2="48.96000000000001" y2="221.9" stroke="#555" stroke-width="0.4"/><line x1="52.02" y1="221" x2="52.02" y2="221.9" stroke="#555" stroke-width="0.4"/><line x1="55.080000000000005" y1="221" x2="55.080000000000005" y2="221.9" stroke="#555" stroke-width="0.4"/><line x1="58.14000000000001" y1="221" x2="58.14000000000001" y2="221.9" stroke="#555" stroke-width="0.4"/><line x1="61.2" y1="221" x2="61.2" y2="222.6" stroke="#555" stroke-width="0.6"/><text x="61.2" y="228.9" font-size="3.8" text-anchor="middle" stroke="#000" stroke-width="0.12">100K</text><line x1="64.26" y1="221" x2="64.26" y2="221.9" stroke="#555" stroke-width="0.4"/><line x1="67.32000000000001" y1="221" x2="67.32000000000001" y2="221.9" stroke="#555" stroke-width="0.4"/><line x1="70.38000000000001" y1="221" x2="70.38000000000001" y2="221.9" stroke="#555" stroke-width="0.4"/><line x1="73.44" y1="221" x2="73.44" y2="221.9" stroke="#555" stroke-width="0.4"/><line x1="76.5" y1="221" x2="76.5" y2="222.6" stroke="#555" stroke-width="0.6"/><text x="76.5" y="228.9" font-size="3.8" text-anchor="middle" stroke="#000" stroke-width="0.12">150K</text><line x1="79.56" y1="221" x2="79.56" y2="221.9" stroke="#555" stroke-width="0.4"/><line x1="82.62" y1="221" x2="82.62" y2="221.9" stroke="#555" stroke-width="0.4"/><line x1="85.68" y1="221" x2="85.68" y2="221.9" stroke="#555" stroke-width="0.4"/><line x1="88.74" y1="221" x2="88.74" y2="221.9" stroke="#555" stroke-width="0.4"/><line x1="91.80000000000001" y1="221" x2="91.80000000000001" y2="222.6" stroke="#555" stroke-width="0.6"/><text x="91.80000000000001" y="228.9" font-size="3.8" text-anchor="middle" stroke="#000" stroke-width="0.12">200K</text><line x1="94.86000000000001" y1="221" x2="94.86000000000001" y2="221.9" stroke="#555" stroke-width="0.4"/><line x1="97.92000000000002" y1="221" x2="97.92000000000002" y2="221.9" stroke="#555" stroke-width="0.4"/><line x1="100.98000000000002" y1="221" x2="100.98000000000002" y2="221.9" stroke="#555" stroke-width="0.4"/><line x1="104.04" y1="221" x2="104.04" y2="221.9" stroke="#555" stroke-width="0.4"/><line x1="107.1" y1="221" x2="107.1" y2="222.6" stroke="#555" stroke-width="0.6"/><text x="107.1" y="228.9" font-size="3.8" text-anchor="middle" stroke="#000" stroke-width="0.12">250K</text><line x1="30.6" y1="221" x2="110" y2="221" stroke="#555" stroke-width="0.7"/><text x="16.5" y="180.5" font-size="5.6" font-weight="bold" text-anchor="middle" stroke="#000" stroke-width="0.12" transform="rotate(-90 16.5 180.5)" textLength="16" lengthAdjust="spacingAndGlyphs">SSC-A</text><text x="70.5" y="234.6" font-size="5.6" font-weight="bold" text-anchor="middle" textLength="17" lengthAdjust="spacingAndGlyphs" stroke="#000" stroke-width="0.12">FSC-A</text><line x1="39.2" y1="141" x2="39.2" y2="220.5" stroke="#999" stroke-width="0.6"/><text x="87.6" y="216.8" font-size="6.6" font-weight="bold" stroke="#000" stroke-width="0.25">55</text><rect x="131" y="141.5" width="80" height="79.5" fill="none" stroke="#8a8a8a" stroke-width="0.8"/><line x1="129.4" y1="221.0" x2="131" y2="221.0" stroke="#555" stroke-width="0.6"/><text x="128.1" y="222.3" font-size="3.8" text-anchor="end" stroke="#000" stroke-width="0.12">0</text><line x1="130.1" y1="217.92" x2="131" y2="217.92" stroke="#555" stroke-width="0.4"/><line x1="130.1" y1="214.84" x2="131" y2="214.84" stroke="#555" stroke-width="0.4"/><line x1="130.1" y1="211.76" x2="131" y2="211.76" stroke="#555" stroke-width="0.4"/><line x1="130.1" y1="208.68" x2="131" y2="208.68" stroke="#555" stroke-width="0.4"/><line x1="129.4" y1="205.6" x2="131" y2="205.6" stroke="#555" stroke-width="0.6"/><text x="128.1" y="206.9" font-size="3.8" text-anchor="end" stroke="#000" stroke-width="0.12">50K</text><line x1="130.1" y1="202.51999999999998" x2="131" y2="202.51999999999998" stroke="#555" stroke-width="0.4"/><line x1="130.1" y1="199.44" x2="131" y2="199.44" stroke="#555" stroke-width="0.4"/><line x1="130.1" y1="196.35999999999999" x2="131" y2="196.35999999999999" stroke="#555" stroke-width="0.4"/><line x1="130.1" y1="193.28" x2="131" y2="193.28" stroke="#555" stroke-width="0.4"/><line x1="129.4" y1="190.2" x2="131" y2="190.2" stroke="#555" stroke-width="0.6"/><text x="128.1" y="191.5" font-size="3.8" text-anchor="end" stroke="#000" stroke-width="0.12">100K</text><line x1="130.1" y1="187.11999999999998" x2="131" y2="187.11999999999998" stroke="#555" stroke-width="0.4"/><line x1="130.1" y1="184.04" x2="131" y2="184.04" stroke="#555" stroke-width="0.4"/><line x1="130.1" y1="180.95999999999998" x2="131" y2="180.95999999999998" stroke="#555" stroke-width="0.4"/><line x1="130.1" y1="177.88" x2="131" y2="177.88" stroke="#555" stroke-width="0.4"/><line x1="129.4" y1="174.8" x2="131" y2="174.8" stroke="#555" stroke-width="0.6"/><text x="128.1" y="176.10000000000002" font-size="3.8" text-anchor="end" stroke="#000" stroke-width="0.12">150K</text><line x1="130.1" y1="171.72" x2="131" y2="171.72" stroke="#555" stroke-width="0.4"/><line x1="130.1" y1="168.64000000000001" x2="131" y2="168.64000000000001" stroke="#555" stroke-width="0.4"/><line x1="130.1" y1="165.56" x2="131" y2="165.56" stroke="#555" stroke-width="0.4"/><line x1="130.1" y1="162.48000000000002" x2="131" y2="162.48000000000002" stroke="#555" stroke-width="0.4"/><line x1="129.4" y1="159.4" x2="131" y2="159.4" stroke="#555" stroke-width="0.6"/><text x="128.1" y="160.70000000000002" font-size="3.8" text-anchor="end" stroke="#000" stroke-width="0.12">200K</text><line x1="130.1" y1="156.32" x2="131" y2="156.32" stroke="#555" stroke-width="0.4"/><line x1="130.1" y1="153.24" x2="131" y2="153.24" stroke="#555" stroke-width="0.4"/><line x1="130.1" y1="150.16" x2="131" y2="150.16" stroke="#555" stroke-width="0.4"/><line x1="130.1" y1="147.08" x2="131" y2="147.08" stroke="#555" stroke-width="0.4"/><line x1="129.4" y1="144.0" x2="131" y2="144.0" stroke="#555" stroke-width="0.6"/><text x="128.1" y="145.3" font-size="3.8" text-anchor="end" stroke="#000" stroke-width="0.12">250K</text><line x1="131" y1="141.5" x2="131" y2="221" stroke="#555" stroke-width="0.7"/><line x1="140" y1="221" x2="140" y2="222.6" stroke="#555" stroke-width="0.6"/><text x="140" y="228.9" font-size="3.8" text-anchor="middle">0</text><line x1="148.3" y1="221" x2="148.3" y2="222.6" stroke="#555" stroke-width="0.6"/><text x="148.9" y="228.9" font-size="3.8" text-anchor="middle">10<tspan font-size="2.6" dy="-1.5">2</tspan></text><line x1="153.77874592108446" y1="221" x2="153.77874592108446" y2="221.9" stroke="#555" stroke-width="0.4"/><line x1="156.98360683589786" y1="221" x2="156.98360683589786" y2="221.9" stroke="#555" stroke-width="0.4"/><line x1="159.25749184216892" y1="221" x2="159.25749184216892" y2="221.9" stroke="#555" stroke-width="0.4"/><line x1="161.02125407891555" y1="221" x2="161.02125407891555" y2="221.9" stroke="#555" stroke-width="0.4"/><line x1="162.4623527569823" y1="221" x2="162.4623527569823" y2="221.9" stroke="#555" stroke-width="0.4"/><line x1="163.68078432825948" y1="221" x2="163.68078432825948" y2="221.9" stroke="#555" stroke-width="0.4"/><line x1="164.73623776325337" y1="221" x2="164.73623776325337" y2="221.9" stroke="#555" stroke-width="0.4"/><line x1="165.6672136717957" y1="221" x2="165.6672136717957" y2="221.9" stroke="#555" stroke-width="0.4"/><line x1="166.5" y1="221" x2="166.5" y2="222.6" stroke="#555" stroke-width="0.6"/><text x="167.1" y="228.9" font-size="3.8" text-anchor="middle">10<tspan font-size="2.6" dy="-1.5">3</tspan></text><line x1="172.06905491978364" y1="221" x2="172.06905491978364" y2="221.9" stroke="#555" stroke-width="0.4"/><line x1="175.32674321231374" y1="221" x2="175.32674321231374" y2="221.9" stroke="#555" stroke-width="0.4"/><line x1="177.6381098395673" y1="221" x2="177.6381098395673" y2="221.9" stroke="#555" stroke-width="0.4"/><line x1="179.43094508021636" y1="221" x2="179.43094508021636" y2="221.9" stroke="#555" stroke-width="0.4"/><line x1="180.8957981320974" y1="221" x2="180.8957981320974" y2="221.9" stroke="#555" stroke-width="0.4"/><line x1="182.13431374026376" y1="221" x2="182.13431374026376" y2="221.9" stroke="#555" stroke-width="0.4"/><line x1="183.20716475935095" y1="221" x2="183.20716475935095" y2="221.9" stroke="#555" stroke-width="0.4"/><line x1="184.15348642462752" y1="221" x2="184.15348642462752" y2="221.9" stroke="#555" stroke-width="0.4"/><line x1="185" y1="221" x2="185" y2="222.6" stroke="#555" stroke-width="0.6"/><text x="185.6" y="228.9" font-size="3.8" text-anchor="middle">10<tspan font-size="2.6" dy="-1.5">4</tspan></text><line x1="190.50884892065085" y1="221" x2="190.50884892065085" y2="221.9" stroke="#555" stroke-width="0.4"/><line x1="193.73131896136982" y1="221" x2="193.73131896136982" y2="221.9" stroke="#555" stroke-width="0.4"/><line x1="196.01769784130173" y1="221" x2="196.01769784130173" y2="221.9" stroke="#555" stroke-width="0.4"/><line x1="197.79115107934916" y1="221" x2="197.79115107934916" y2="221.9" stroke="#555" stroke-width="0.4"/><line x1="199.2401678820207" y1="221" x2="199.2401678820207" y2="221.9" stroke="#555" stroke-width="0.4"/><line x1="200.4652941322609" y1="221" x2="200.4652941322609" y2="221.9" stroke="#555" stroke-width="0.4"/><line x1="201.52654676195257" y1="221" x2="201.52654676195257" y2="221.9" stroke="#555" stroke-width="0.4"/><line x1="202.46263792273965" y1="221" x2="202.46263792273965" y2="221.9" stroke="#555" stroke-width="0.4"/><line x1="203.3" y1="221" x2="203.3" y2="222.6" stroke="#555" stroke-width="0.6"/><text x="203.9" y="228.9" font-size="3.8" text-anchor="middle">10<tspan font-size="2.6" dy="-1.5">5</tspan></text><line x1="131" y1="221" x2="211" y2="221" stroke="#555" stroke-width="0.7"/><text x="119.7" y="180.5" font-size="5.6" font-weight="bold" text-anchor="middle" stroke="#000" stroke-width="0.12" transform="rotate(-90 119.7 180.5)" textLength="16" lengthAdjust="spacingAndGlyphs">SSC-A</text><text x="171" y="234.6" font-size="5.6" font-weight="bold" text-anchor="middle" textLength="46.8" lengthAdjust="spacingAndGlyphs" stroke="#000" stroke-width="0.12">CD45 Pacific Blue</text><rect x="154.4" y="199" width="50.599999999999994" height="21.5" fill="none" stroke="#888" stroke-width="1.0"/><text x="199.8" y="217" font-size="6.6" font-weight="bold" stroke="#000" stroke-width="0.25">54</text><path d="M205 199 L205 205.8 L247.0 205.8" stroke="#111" stroke-width="0.9" fill="none"/><path d="M252.0 205.8 L247.0 203.8 L247.0 207.8 Z" fill="#111"/><path d="M205 199 L213 199" stroke="#444" stroke-width="1.0" fill="none"/><rect x="232.6" y="141.8" width="80.9" height="79.69999999999999" fill="none" stroke="#8a8a8a" stroke-width="0.8"/><line x1="231.0" y1="212.8" x2="232.6" y2="212.8" stroke="#555" stroke-width="0.6"/><text x="230.2" y="214.10000000000002" font-size="3.8" text-anchor="end">0</text><line x1="231.0" y1="204" x2="232.6" y2="204" stroke="#555" stroke-width="0.6"/><text x="229.79999999999998" y="206.6" font-size="3.8" text-anchor="end" fill="#444">10<tspan font-size="2.6" dy="-1.5">2</tspan></text><line x1="231.7" y1="198.52125407891555" x2="232.6" y2="198.52125407891555" stroke="#555" stroke-width="0.4"/><line x1="231.7" y1="195.31639316410215" x2="232.6" y2="195.31639316410215" stroke="#555" stroke-width="0.4"/><line x1="231.7" y1="193.0425081578311" x2="232.6" y2="193.0425081578311" stroke="#555" stroke-width="0.4"/><line x1="231.7" y1="191.27874592108446" x2="232.6" y2="191.27874592108446" stroke="#555" stroke-width="0.4"/><line x1="231.7" y1="189.8376472430177" x2="232.6" y2="189.8376472430177" stroke="#555" stroke-width="0.4"/><line x1="231.7" y1="188.61921567174053" x2="232.6" y2="188.61921567174053" stroke="#555" stroke-width="0.4"/><line x1="231.7" y1="187.56376223674664" x2="232.6" y2="187.56376223674664" stroke="#555" stroke-width="0.4"/><line x1="231.7" y1="186.6327863282043" x2="232.6" y2="186.6327863282043" stroke="#555" stroke-width="0.4"/><line x1="231.0" y1="185.8" x2="232.6" y2="185.8" stroke="#555" stroke-width="0.6"/><text x="229.79999999999998" y="188.4" font-size="3.8" text-anchor="end" fill="#444">10<tspan font-size="2.6" dy="-1.5">3</tspan></text><line x1="231.7" y1="179.99012108368518" x2="232.6" y2="179.99012108368518" stroke="#555" stroke-width="0.4"/><line x1="231.7" y1="176.59155978391053" x2="232.6" y2="176.59155978391053" stroke="#555" stroke-width="0.4"/><line x1="231.7" y1="174.18024216737032" x2="232.6" y2="174.18024216737032" stroke="#555" stroke-width="0.4"/><line x1="231.7" y1="172.30987891631483" x2="232.6" y2="172.30987891631483" stroke="#555" stroke-width="0.4"/><line x1="231.7" y1="170.78168086759567" x2="232.6" y2="170.78168086759567" stroke="#555" stroke-width="0.4"/><line x1="231.7" y1="169.48960782772485" x2="232.6" y2="169.48960782772485" stroke="#555" stroke-width="0.4"/><line x1="231.7" y1="168.3703632510555" x2="232.6" y2="168.3703632510555" stroke="#555" stroke-width="0.4"/><line x1="231.7" y1="167.38311956782104" x2="232.6" y2="167.38311956782104" stroke="#555" stroke-width="0.4"/><line x1="231.0" y1="166.5" x2="232.6" y2="166.5" stroke="#555" stroke-width="0.6"/><text x="229.79999999999998" y="169.1" font-size="3.8" text-anchor="end" fill="#444">10<tspan font-size="2.6" dy="-1.5">4</tspan></text><line x1="231.7" y1="161.23197507588034" x2="232.6" y2="161.23197507588034" stroke="#555" stroke-width="0.4"/><line x1="231.7" y1="158.15037804240592" x2="232.6" y2="158.15037804240592" stroke="#555" stroke-width="0.4"/><line x1="231.7" y1="155.96395015176066" x2="232.6" y2="155.96395015176066" stroke="#555" stroke-width="0.4"/><line x1="231.7" y1="154.26802492411966" x2="232.6" y2="154.26802492411966" stroke="#555" stroke-width="0.4"/><line x1="231.7" y1="152.88235311828623" x2="232.6" y2="152.88235311828623" stroke="#555" stroke-width="0.4"/><line x1="231.7" y1="151.71078429975051" x2="232.6" y2="151.71078429975051" stroke="#555" stroke-width="0.4"/><line x1="231.7" y1="150.695925227641" x2="232.6" y2="150.695925227641" stroke="#555" stroke-width="0.4"/><line x1="231.7" y1="149.8007560848118" x2="232.6" y2="149.8007560848118" stroke="#555" stroke-width="0.4"/><line x1="231.0" y1="149" x2="232.6" y2="149" stroke="#555" stroke-width="0.6"/><text x="229.79999999999998" y="151.6" font-size="3.8" text-anchor="end" fill="#444">10<tspan font-size="2.6" dy="-1.5">5</tspan></text><line x1="232.6" y1="141.8" x2="232.6" y2="221.5" stroke="#555" stroke-width="0.7"/><line x1="241" y1="221.5" x2="241" y2="223.1" stroke="#555" stroke-width="0.6"/><text x="241" y="229.4" font-size="3.8" text-anchor="middle">0</text><line x1="250" y1="221.5" x2="250" y2="223.1" stroke="#555" stroke-width="0.6"/><text x="250.6" y="229.4" font-size="3.8" text-anchor="middle">10<tspan font-size="2.6" dy="-1.5">2</tspan></text><line x1="255.56905491978364" y1="221.5" x2="255.56905491978364" y2="222.4" stroke="#555" stroke-width="0.4"/><line x1="258.8267432123138" y1="221.5" x2="258.8267432123138" y2="222.4" stroke="#555" stroke-width="0.4"/><line x1="261.1381098395673" y1="221.5" x2="261.1381098395673" y2="222.4" stroke="#555" stroke-width="0.4"/><line x1="262.93094508021636" y1="221.5" x2="262.93094508021636" y2="222.4" stroke="#555" stroke-width="0.4"/><line x1="264.3957981320974" y1="221.5" x2="264.3957981320974" y2="222.4" stroke="#555" stroke-width="0.4"/><line x1="265.63431374026374" y1="221.5" x2="265.63431374026374" y2="222.4" stroke="#555" stroke-width="0.4"/><line x1="266.707164759351" y1="221.5" x2="266.707164759351" y2="222.4" stroke="#555" stroke-width="0.4"/><line x1="267.6534864246275" y1="221.5" x2="267.6534864246275" y2="222.4" stroke="#555" stroke-width="0.4"/><line x1="268.5" y1="221.5" x2="268.5" y2="223.1" stroke="#555" stroke-width="0.6"/><text x="269.1" y="229.4" font-size="3.8" text-anchor="middle">10<tspan font-size="2.6" dy="-1.5">3</tspan></text><line x1="274.06905491978364" y1="221.5" x2="274.06905491978364" y2="222.4" stroke="#555" stroke-width="0.4"/><line x1="277.3267432123138" y1="221.5" x2="277.3267432123138" y2="222.4" stroke="#555" stroke-width="0.4"/><line x1="279.6381098395673" y1="221.5" x2="279.6381098395673" y2="222.4" stroke="#555" stroke-width="0.4"/><line x1="281.43094508021636" y1="221.5" x2="281.43094508021636" y2="222.4" stroke="#555" stroke-width="0.4"/><line x1="282.8957981320974" y1="221.5" x2="282.8957981320974" y2="222.4" stroke="#555" stroke-width="0.4"/><line x1="284.13431374026374" y1="221.5" x2="284.13431374026374" y2="222.4" stroke="#555" stroke-width="0.4"/><line x1="285.207164759351" y1="221.5" x2="285.207164759351" y2="222.4" stroke="#555" stroke-width="0.4"/><line x1="286.1534864246275" y1="221.5" x2="286.1534864246275" y2="222.4" stroke="#555" stroke-width="0.4"/><line x1="287" y1="221.5" x2="287" y2="223.1" stroke="#555" stroke-width="0.6"/><text x="287.6" y="229.4" font-size="3.8" text-anchor="middle">10<tspan font-size="2.6" dy="-1.5">4</tspan></text><line x1="292.56905491978364" y1="221.5" x2="292.56905491978364" y2="222.4" stroke="#555" stroke-width="0.4"/><line x1="295.8267432123138" y1="221.5" x2="295.8267432123138" y2="222.4" stroke="#555" stroke-width="0.4"/><line x1="298.1381098395673" y1="221.5" x2="298.1381098395673" y2="222.4" stroke="#555" stroke-width="0.4"/><line x1="299.93094508021636" y1="221.5" x2="299.93094508021636" y2="222.4" stroke="#555" stroke-width="0.4"/><line x1="301.3957981320974" y1="221.5" x2="301.3957981320974" y2="222.4" stroke="#555" stroke-width="0.4"/><line x1="302.63431374026374" y1="221.5" x2="302.63431374026374" y2="222.4" stroke="#555" stroke-width="0.4"/><line x1="303.707164759351" y1="221.5" x2="303.707164759351" y2="222.4" stroke="#555" stroke-width="0.4"/><line x1="304.6534864246275" y1="221.5" x2="304.6534864246275" y2="222.4" stroke="#555" stroke-width="0.4"/><line x1="305.5" y1="221.5" x2="305.5" y2="223.1" stroke="#555" stroke-width="0.6"/><text x="306.1" y="229.4" font-size="3.8" text-anchor="middle">10<tspan font-size="2.6" dy="-1.5">5</tspan></text><line x1="232.6" y1="221.5" x2="313.5" y2="221.5" stroke="#555" stroke-width="0.7"/><text x="222.2" y="180.6" font-size="5.6" font-weight="bold" text-anchor="middle" stroke="#000" stroke-width="0.12" transform="rotate(-90 222.2 180.6)" textLength="46.5" lengthAdjust="spacingAndGlyphs">CD45 Pacific Blue</text><text x="272.5" y="234.8" font-size="5.6" font-weight="bold" text-anchor="middle" textLength="19.5" lengthAdjust="spacingAndGlyphs" stroke="#000" stroke-width="0.12">CD7 PE</text><rect x="256.4" y="147" width="56.900000000000034" height="59.69999999999999" fill="none" stroke="#6e6e6e" stroke-width="1.3"/><text x="297" y="157.5" font-size="6.6" font-weight="bold" stroke="#000" stroke-width="0.25">35</text><path d="M304.9 206.7 L304.9 213.6 L343 213.6" stroke="#111" stroke-width="1.0" fill="none"/><rect x="334.3" y="141" width="79.69999999999999" height="80" fill="none" stroke="#8a8a8a" stroke-width="0.8"/><line x1="332.7" y1="221.0" x2="334.3" y2="221.0" stroke="#555" stroke-width="0.6"/><text x="331.40000000000003" y="222.3" font-size="3.8" text-anchor="end" stroke="#000" stroke-width="0.12">0</text><line x1="333.40000000000003" y1="217.92" x2="334.3" y2="217.92" stroke="#555" stroke-width="0.4"/><line x1="333.40000000000003" y1="214.84" x2="334.3" y2="214.84" stroke="#555" stroke-width="0.4"/><line x1="333.40000000000003" y1="211.76" x2="334.3" y2="211.76" stroke="#555" stroke-width="0.4"/><line x1="333.40000000000003" y1="208.68" x2="334.3" y2="208.68" stroke="#555" stroke-width="0.4"/><line x1="332.7" y1="205.6" x2="334.3" y2="205.6" stroke="#555" stroke-width="0.6"/><text x="331.40000000000003" y="206.9" font-size="3.8" text-anchor="end" stroke="#000" stroke-width="0.12">50K</text><line x1="333.40000000000003" y1="202.51999999999998" x2="334.3" y2="202.51999999999998" stroke="#555" stroke-width="0.4"/><line x1="333.40000000000003" y1="199.44" x2="334.3" y2="199.44" stroke="#555" stroke-width="0.4"/><line x1="333.40000000000003" y1="196.35999999999999" x2="334.3" y2="196.35999999999999" stroke="#555" stroke-width="0.4"/><line x1="333.40000000000003" y1="193.28" x2="334.3" y2="193.28" stroke="#555" stroke-width="0.4"/><line x1="332.7" y1="190.2" x2="334.3" y2="190.2" stroke="#555" stroke-width="0.6"/><text x="331.40000000000003" y="191.5" font-size="3.8" text-anchor="end" stroke="#000" stroke-width="0.12">100K</text><line x1="333.40000000000003" y1="187.11999999999998" x2="334.3" y2="187.11999999999998" stroke="#555" stroke-width="0.4"/><line x1="333.40000000000003" y1="184.04" x2="334.3" y2="184.04" stroke="#555" stroke-width="0.4"/><line x1="333.40000000000003" y1="180.95999999999998" x2="334.3" y2="180.95999999999998" stroke="#555" stroke-width="0.4"/><line x1="333.40000000000003" y1="177.88" x2="334.3" y2="177.88" stroke="#555" stroke-width="0.4"/><line x1="332.7" y1="174.8" x2="334.3" y2="174.8" stroke="#555" stroke-width="0.6"/><text x="331.40000000000003" y="176.10000000000002" font-size="3.8" text-anchor="end" stroke="#000" stroke-width="0.12">150K</text><line x1="333.40000000000003" y1="171.72" x2="334.3" y2="171.72" stroke="#555" stroke-width="0.4"/><line x1="333.40000000000003" y1="168.64000000000001" x2="334.3" y2="168.64000000000001" stroke="#555" stroke-width="0.4"/><line x1="333.40000000000003" y1="165.56" x2="334.3" y2="165.56" stroke="#555" stroke-width="0.4"/><line x1="333.40000000000003" y1="162.48000000000002" x2="334.3" y2="162.48000000000002" stroke="#555" stroke-width="0.4"/><line x1="332.7" y1="159.4" x2="334.3" y2="159.4" stroke="#555" stroke-width="0.6"/><text x="331.40000000000003" y="160.70000000000002" font-size="3.8" text-anchor="end" stroke="#000" stroke-width="0.12">200K</text><line x1="333.40000000000003" y1="156.32" x2="334.3" y2="156.32" stroke="#555" stroke-width="0.4"/><line x1="333.40000000000003" y1="153.24" x2="334.3" y2="153.24" stroke="#555" stroke-width="0.4"/><line x1="333.40000000000003" y1="150.16" x2="334.3" y2="150.16" stroke="#555" stroke-width="0.4"/><line x1="333.40000000000003" y1="147.08" x2="334.3" y2="147.08" stroke="#555" stroke-width="0.4"/><line x1="332.7" y1="144.0" x2="334.3" y2="144.0" stroke="#555" stroke-width="0.6"/><text x="331.40000000000003" y="145.3" font-size="3.8" text-anchor="end" stroke="#000" stroke-width="0.12">250K</text><line x1="334.3" y1="141" x2="334.3" y2="221" stroke="#555" stroke-width="0.7"/><line x1="334.3" y1="221" x2="334.3" y2="222.6" stroke="#555" stroke-width="0.6"/><text x="334.3" y="228.9" font-size="3.8" text-anchor="middle" stroke="#000" stroke-width="0.12">0</text><line x1="337.36" y1="221" x2="337.36" y2="221.9" stroke="#555" stroke-width="0.4"/><line x1="340.42" y1="221" x2="340.42" y2="221.9" stroke="#555" stroke-width="0.4"/><line x1="343.48" y1="221" x2="343.48" y2="221.9" stroke="#555" stroke-width="0.4"/><line x1="346.54" y1="221" x2="346.54" y2="221.9" stroke="#555" stroke-width="0.4"/><line x1="349.6" y1="221" x2="349.6" y2="222.6" stroke="#555" stroke-width="0.6"/><text x="349.6" y="228.9" font-size="3.8" text-anchor="middle" stroke="#000" stroke-width="0.12">50K</text><line x1="352.66" y1="221" x2="352.66" y2="221.9" stroke="#555" stroke-width="0.4"/><line x1="355.72" y1="221" x2="355.72" y2="221.9" stroke="#555" stroke-width="0.4"/><line x1="358.78000000000003" y1="221" x2="358.78000000000003" y2="221.9" stroke="#555" stroke-width="0.4"/><line x1="361.84000000000003" y1="221" x2="361.84000000000003" y2="221.9" stroke="#555" stroke-width="0.4"/><line x1="364.90000000000003" y1="221" x2="364.90000000000003" y2="222.6" stroke="#555" stroke-width="0.6"/><text x="364.90000000000003" y="228.9" font-size="3.8" text-anchor="middle" stroke="#000" stroke-width="0.12">100K</text><line x1="367.96000000000004" y1="221" x2="367.96000000000004" y2="221.9" stroke="#555" stroke-width="0.4"/><line x1="371.02000000000004" y1="221" x2="371.02000000000004" y2="221.9" stroke="#555" stroke-width="0.4"/><line x1="374.08000000000004" y1="221" x2="374.08000000000004" y2="221.9" stroke="#555" stroke-width="0.4"/><line x1="377.14000000000004" y1="221" x2="377.14000000000004" y2="221.9" stroke="#555" stroke-width="0.4"/><line x1="380.20000000000005" y1="221" x2="380.20000000000005" y2="222.6" stroke="#555" stroke-width="0.6"/><text x="380.20000000000005" y="228.9" font-size="3.8" text-anchor="middle" stroke="#000" stroke-width="0.12">150K</text><line x1="383.26000000000005" y1="221" x2="383.26000000000005" y2="221.9" stroke="#555" stroke-width="0.4"/><line x1="386.32000000000005" y1="221" x2="386.32000000000005" y2="221.9" stroke="#555" stroke-width="0.4"/><line x1="389.38000000000005" y1="221" x2="389.38000000000005" y2="221.9" stroke="#555" stroke-width="0.4"/><line x1="392.44000000000005" y1="221" x2="392.44000000000005" y2="221.9" stroke="#555" stroke-width="0.4"/><line x1="395.5" y1="221" x2="395.5" y2="222.6" stroke="#555" stroke-width="0.6"/><text x="395.5" y="228.9" font-size="3.8" text-anchor="middle" stroke="#000" stroke-width="0.12">200K</text><line x1="398.56" y1="221" x2="398.56" y2="221.9" stroke="#555" stroke-width="0.4"/><line x1="401.62" y1="221" x2="401.62" y2="221.9" stroke="#555" stroke-width="0.4"/><line x1="404.68" y1="221" x2="404.68" y2="221.9" stroke="#555" stroke-width="0.4"/><line x1="407.74" y1="221" x2="407.74" y2="221.9" stroke="#555" stroke-width="0.4"/><line x1="410.8" y1="221" x2="410.8" y2="222.6" stroke="#555" stroke-width="0.6"/><text x="410.8" y="228.9" font-size="3.8" text-anchor="middle" stroke="#000" stroke-width="0.12">250K</text><line x1="413.86" y1="221" x2="413.86" y2="221.9" stroke="#555" stroke-width="0.4"/><line x1="334.3" y1="221" x2="414" y2="221" stroke="#555" stroke-width="0.7"/><text x="320.4" y="181.8" font-size="5.6" font-weight="bold" text-anchor="middle" stroke="#000" stroke-width="0.12" transform="rotate(-90 320.4 181.8)" textLength="16" lengthAdjust="spacingAndGlyphs">SSC-A</text><text x="374.5" y="234.6" font-size="5.6" font-weight="bold" text-anchor="middle" textLength="17" lengthAdjust="spacingAndGlyphs" stroke="#000" stroke-width="0.12">FSC-A</text><text x="369" y="217" font-size="6.6" font-weight="bold" stroke="#000" stroke-width="0.25">26</text><path d="M313.5 213.6 L337.5 213.6" stroke="#111" stroke-width="0.9" fill="none"/><path d="M342.5 213.6 L337.5 211.6 L337.5 215.6 Z" fill="#111"/><path d="M358.7 197 L358.7 159 L420 159" stroke="#333" stroke-width="1.3" fill="none"/><path d="M419 159 L428.8 159.0" stroke="#111" stroke-width="1.3" fill="none"/><path d="M433.8 159.0 L428.8 157.0 L428.8 161.0 Z" fill="#111"/><rect x="437.8" y="141" width="75.69999999999999" height="79" fill="none" stroke="#8a8a8a" stroke-width="0.8"/><line x1="436.2" y1="212.6" x2="437.8" y2="212.6" stroke="#555" stroke-width="0.6"/><text x="435.40000000000003" y="213.9" font-size="3.8" text-anchor="end">0</text><line x1="436.2" y1="203.8" x2="437.8" y2="203.8" stroke="#555" stroke-width="0.6"/><text x="435.0" y="206.4" font-size="3.8" text-anchor="end" fill="#444">10<tspan font-size="2.6" dy="-1.5">2</tspan></text><line x1="436.90000000000003" y1="198.20084208064995" x2="437.8" y2="198.20084208064995" stroke="#555" stroke-width="0.4"/><line x1="436.90000000000003" y1="194.9255446622143" x2="437.8" y2="194.9255446622143" stroke="#555" stroke-width="0.4"/><line x1="436.90000000000003" y1="192.6016841612999" x2="437.8" y2="192.6016841612999" stroke="#555" stroke-width="0.4"/><line x1="436.90000000000003" y1="190.79915791935005" x2="437.8" y2="190.79915791935005" stroke="#555" stroke-width="0.4"/><line x1="436.90000000000003" y1="189.32638674286423" x2="437.8" y2="189.32638674286423" stroke="#555" stroke-width="0.4"/><line x1="436.90000000000003" y1="188.0811764557348" x2="437.8" y2="188.0811764557348" stroke="#555" stroke-width="0.4"/><line x1="436.90000000000003" y1="187.00252624194985" x2="437.8" y2="187.00252624194985" stroke="#555" stroke-width="0.4"/><line x1="436.90000000000003" y1="186.05108932442855" x2="437.8" y2="186.05108932442855" stroke="#555" stroke-width="0.4"/><line x1="436.2" y1="185.2" x2="437.8" y2="185.2" stroke="#555" stroke-width="0.6"/><text x="435.0" y="187.79999999999998" font-size="3.8" text-anchor="end" fill="#444">10<tspan font-size="2.6" dy="-1.5">3</tspan></text><line x1="436.90000000000003" y1="179.42022408325155" x2="437.8" y2="179.42022408325155" stroke="#555" stroke-width="0.4"/><line x1="436.90000000000003" y1="176.03927190938248" x2="437.8" y2="176.03927190938248" stroke="#555" stroke-width="0.4"/><line x1="436.90000000000003" y1="173.64044816650312" x2="437.8" y2="173.64044816650312" stroke="#555" stroke-width="0.4"/><line x1="436.90000000000003" y1="171.77977591674843" x2="437.8" y2="171.77977591674843" stroke="#555" stroke-width="0.4"/><line x1="436.90000000000003" y1="170.25949599263404" x2="437.8" y2="170.25949599263404" stroke="#555" stroke-width="0.4"/><line x1="436.90000000000003" y1="168.97411763172627" x2="437.8" y2="168.97411763172627" stroke="#555" stroke-width="0.4"/><line x1="436.90000000000003" y1="167.86067224975469" x2="437.8" y2="167.86067224975469" stroke="#555" stroke-width="0.4"/><line x1="436.90000000000003" y1="166.87854381876497" x2="437.8" y2="166.87854381876497" stroke="#555" stroke-width="0.4"/><line x1="436.2" y1="166" x2="437.8" y2="166" stroke="#555" stroke-width="0.6"/><text x="435.0" y="168.6" font-size="3.8" text-anchor="end" fill="#444">10<tspan font-size="2.6" dy="-1.5">4</tspan></text><line x1="436.90000000000003" y1="160.88249007371232" x2="437.8" y2="160.88249007371232" stroke="#555" stroke-width="0.4"/><line x1="436.90000000000003" y1="157.88893866976574" x2="437.8" y2="157.88893866976574" stroke="#555" stroke-width="0.4"/><line x1="436.90000000000003" y1="155.76498014742464" x2="437.8" y2="155.76498014742464" stroke="#555" stroke-width="0.4"/><line x1="436.90000000000003" y1="154.11750992628768" x2="437.8" y2="154.11750992628768" stroke="#555" stroke-width="0.4"/><line x1="436.90000000000003" y1="152.77142874347805" x2="437.8" y2="152.77142874347805" stroke="#555" stroke-width="0.4"/><line x1="436.90000000000003" y1="151.63333331975764" x2="437.8" y2="151.63333331975764" stroke="#555" stroke-width="0.4"/><line x1="436.90000000000003" y1="150.64747022113696" x2="437.8" y2="150.64747022113696" stroke="#555" stroke-width="0.4"/><line x1="436.90000000000003" y1="149.77787733953147" x2="437.8" y2="149.77787733953147" stroke="#555" stroke-width="0.4"/><line x1="436.2" y1="149" x2="437.8" y2="149" stroke="#555" stroke-width="0.6"/><text x="435.0" y="151.6" font-size="3.8" text-anchor="end" fill="#444">10<tspan font-size="2.6" dy="-1.5">5</tspan></text><line x1="437.8" y1="141" x2="437.8" y2="220" stroke="#555" stroke-width="0.7"/><line x1="447.7" y1="220" x2="447.7" y2="221.6" stroke="#555" stroke-width="0.6"/><text x="447.7" y="227.9" font-size="3.8" text-anchor="middle">0</text><line x1="455.5" y1="220" x2="455.5" y2="221.6" stroke="#555" stroke-width="0.6"/><text x="456.1" y="227.9" font-size="3.8" text-anchor="middle">10<tspan font-size="2.6" dy="-1.5">2</tspan></text><line x1="461.06905491978364" y1="220" x2="461.06905491978364" y2="220.9" stroke="#555" stroke-width="0.4"/><line x1="464.3267432123138" y1="220" x2="464.3267432123138" y2="220.9" stroke="#555" stroke-width="0.4"/><line x1="466.6381098395673" y1="220" x2="466.6381098395673" y2="220.9" stroke="#555" stroke-width="0.4"/><line x1="468.43094508021636" y1="220" x2="468.43094508021636" y2="220.9" stroke="#555" stroke-width="0.4"/><line x1="469.8957981320974" y1="220" x2="469.8957981320974" y2="220.9" stroke="#555" stroke-width="0.4"/><line x1="471.13431374026374" y1="220" x2="471.13431374026374" y2="220.9" stroke="#555" stroke-width="0.4"/><line x1="472.207164759351" y1="220" x2="472.207164759351" y2="220.9" stroke="#555" stroke-width="0.4"/><line x1="473.1534864246275" y1="220" x2="473.1534864246275" y2="220.9" stroke="#555" stroke-width="0.4"/><line x1="474" y1="220" x2="474" y2="221.6" stroke="#555" stroke-width="0.6"/><text x="474.6" y="227.9" font-size="3.8" text-anchor="middle">10<tspan font-size="2.6" dy="-1.5">3</tspan></text><line x1="479.7195699176156" y1="220" x2="479.7195699176156" y2="220.9" stroke="#555" stroke-width="0.4"/><line x1="483.06530383967356" y1="220" x2="483.06530383967356" y2="220.9" stroke="#555" stroke-width="0.4"/><line x1="485.4391398352313" y1="220" x2="485.4391398352313" y2="220.9" stroke="#555" stroke-width="0.4"/><line x1="487.2804300823844" y1="220" x2="487.2804300823844" y2="220.9" stroke="#555" stroke-width="0.4"/><line x1="488.78487375728923" y1="220" x2="488.78487375728923" y2="220.9" stroke="#555" stroke-width="0.4"/><line x1="490.05686276027086" y1="220" x2="490.05686276027086" y2="220.9" stroke="#555" stroke-width="0.4"/><line x1="491.1587097528469" y1="220" x2="491.1587097528469" y2="220.9" stroke="#555" stroke-width="0.4"/><line x1="492.1306076793472" y1="220" x2="492.1306076793472" y2="220.9" stroke="#555" stroke-width="0.4"/><line x1="493" y1="220" x2="493" y2="221.6" stroke="#555" stroke-width="0.6"/><text x="493.6" y="227.9" font-size="3.8" text-anchor="middle">10<tspan font-size="2.6" dy="-1.5">4</tspan></text><line x1="498.59915791935003" y1="220" x2="498.59915791935003" y2="220.9" stroke="#555" stroke-width="0.4"/><line x1="501.8744553377857" y1="220" x2="501.8744553377857" y2="220.9" stroke="#555" stroke-width="0.4"/><line x1="504.1983158387001" y1="220" x2="504.1983158387001" y2="220.9" stroke="#555" stroke-width="0.4"/><line x1="506.00084208065" y1="220" x2="506.00084208065" y2="220.9" stroke="#555" stroke-width="0.4"/><line x1="507.4736132571358" y1="220" x2="507.4736132571358" y2="220.9" stroke="#555" stroke-width="0.4"/><line x1="508.7188235442652" y1="220" x2="508.7188235442652" y2="220.9" stroke="#555" stroke-width="0.4"/><line x1="509.79747375805016" y1="220" x2="509.79747375805016" y2="220.9" stroke="#555" stroke-width="0.4"/><line x1="510.74891067557144" y1="220" x2="510.74891067557144" y2="220.9" stroke="#555" stroke-width="0.4"/><line x1="511.6" y1="220" x2="511.6" y2="221.6" stroke="#555" stroke-width="0.6"/><text x="512.2" y="227.9" font-size="3.8" text-anchor="middle">10<tspan font-size="2.6" dy="-1.5">5</tspan></text><line x1="437.8" y1="220" x2="513.5" y2="220" stroke="#555" stroke-width="0.7"/><text x="428.5" y="181" font-size="5.6" font-weight="bold" text-anchor="middle" stroke="#000" stroke-width="0.12" transform="rotate(-90 428.5 181)" textLength="33" lengthAdjust="spacingAndGlyphs">CD56 PECy7</text><text x="478" y="234.6" font-size="5.6" font-weight="bold" text-anchor="middle" textLength="24" lengthAdjust="spacingAndGlyphs" stroke="#000" stroke-width="0.12">CD3 ECD</text><rect x="438.2" y="141.3" width="26.400000000000034" height="36.39999999999998" fill="none" stroke="#6e6e6e" stroke-width="1.3"/><rect x="464.6" y="141.3" width="39.0" height="36.39999999999998" fill="none" stroke="#6e6e6e" stroke-width="1.3"/><rect x="464.6" y="178.7" width="39.0" height="40.900000000000006" fill="none" stroke="#6e6e6e" stroke-width="1.3"/><text x="451.7" y="150" font-size="6.6" font-weight="bold" stroke="#000" stroke-width="0.25">2</text><text x="493.2" y="150" font-size="6.6" font-weight="bold" stroke="#000" stroke-width="0.25">1</text><text x="491" y="217" font-size="6.6" font-weight="bold" stroke="#000" stroke-width="0.25">14</text><text x="0.9" y="256.4" font-size="11.6" font-weight="bold">C</text><text x="255" y="256.6" font-size="11.6" font-weight="bold">D</text><line x1="24.7" y1="253.4" x2="24.7" y2="318.6" stroke="#6a6a6a" stroke-width="1.0"/><line x1="22.5" y1="318.6" x2="24.7" y2="318.6" stroke="#6a6a6a" stroke-width="0.8"/><text x="22.099999999999998" y="320.1" font-size="4.3" font-weight="bold" text-anchor="end" fill="#222">0</text><line x1="22.5" y1="302.2" x2="24.7" y2="302.2" stroke="#6a6a6a" stroke-width="0.8"/><text x="22.099999999999998" y="303.7" font-size="4.3" font-weight="bold" text-anchor="end" fill="#222">20</text><line x1="22.5" y1="286" x2="24.7" y2="286" stroke="#6a6a6a" stroke-width="0.8"/><text x="22.099999999999998" y="287.5" font-size="4.3" font-weight="bold" text-anchor="end" fill="#222">40</text><line x1="22.5" y1="269.6" x2="24.7" y2="269.6" stroke="#6a6a6a" stroke-width="0.8"/><text x="22.099999999999998" y="271.1" font-size="4.3" font-weight="bold" text-anchor="end" fill="#222">60</text><line x1="22.5" y1="253.4" x2="24.7" y2="253.4" stroke="#6a6a6a" stroke-width="0.8"/><text x="22.099999999999998" y="254.9" font-size="4.3" font-weight="bold" text-anchor="end" fill="#222">80</text><line x1="24.7" y1="318.6" x2="126.5" y2="318.6" stroke="#6a6a6a" stroke-width="1.2"/><line x1="50.3" y1="318.6" x2="50.3" y2="320.20000000000005" stroke="#6a6a6a" stroke-width="0.7"/><text x="50.3" y="326.8" font-size="4.9" font-weight="bold" text-anchor="middle">Normal</text><text x="50.3" y="332.2" font-size="4.9" font-weight="bold" text-anchor="middle">(n=20)</text><line x1="100.8" y1="318.6" x2="100.8" y2="320.20000000000005" stroke="#6a6a6a" stroke-width="0.7"/><text x="100.8" y="326.8" font-size="4.9" font-weight="bold" text-anchor="middle">MDS</text><text x="100.8" y="332.2" font-size="4.9" font-weight="bold" text-anchor="middle">(n=67)</text><line x1="52" y1="252.8" x2="107.6" y2="252.8" stroke="#333" stroke-width="1.2"/><line x1="52" y1="251.5" x2="52" y2="254.10000000000002" stroke="#333" stroke-width="0.9"/><line x1="107.6" y1="251.5" x2="107.6" y2="254.10000000000002" stroke="#333" stroke-width="0.9"/><text x="79.8" y="253.0" font-size="5.6" font-weight="bold" text-anchor="middle" textLength="9" lengthAdjust="spacingAndGlyphs">****</text><text x="15" y="285" font-size="5.6" font-weight="bold" text-anchor="middle" stroke="#000" stroke-width="0.12" transform="rotate(-90 15 285)" textLength="22.5" lengthAdjust="spacingAndGlyphs">% T cells</text><line x1="34.3" y1="286" x2="66.3" y2="286" stroke="#777" stroke-width="0.9"/><line x1="50.3" y1="283.9" x2="50.3" y2="287.8" stroke="#777" stroke-width="0.7"/><line x1="42.8" y1="283.9" x2="57.8" y2="283.9" stroke="#777" stroke-width="0.7"/><line x1="42.8" y1="287.8" x2="57.8" y2="287.8" stroke="#777" stroke-width="0.7"/><g fill="#000"><circle cx="50.1" cy="265.5" r="1.5"/><circle cx="50.1" cy="270.7" r="1.5"/><circle cx="49.9" cy="277.2" r="1.5"/><circle cx="52.4" cy="279.9" r="1.5"/><circle cx="56.6" cy="278.7" r="1.5"/><circle cx="41.2" cy="279.4" r="1.5"/><circle cx="45.7" cy="282.7" r="1.5"/><circle cx="39.3" cy="283.9" r="1.5"/><circle cx="43.4" cy="284.6" r="1.5"/><circle cx="48.7" cy="285.7" r="1.5"/><circle cx="53.9" cy="284.6" r="1.5"/><circle cx="58.4" cy="285.1" r="1.5"/><circle cx="63.1" cy="283.9" r="1.5"/><circle cx="52.4" cy="289.6" r="1.5"/><circle cx="45.7" cy="293.1" r="1.5"/><circle cx="43.4" cy="295.5" r="1.5"/><circle cx="47.9" cy="296.6" r="1.5"/><circle cx="56.6" cy="296.1" r="1.5"/><circle cx="52.4" cy="299.1" r="1.5"/><circle cx="50.1" cy="303.3" r="1.5"/></g><line x1="84.3" y1="302.1" x2="117.3" y2="302.1" stroke="#777" stroke-width="0.9"/><path fill="#000" d="M99.3 267.1h2.5v2.5h-2.5zM99.3 272.9h2.5v2.5h-2.5zM92.7 277.6h2.5v2.5h-2.5zM97.2 280.9h2.5v2.5h-2.5zM101.5 281.9h2.5v2.5h-2.5zM106.0 280.6h2.5v2.5h-2.5zM90.7 284.2h2.5v2.5h-2.5zM95.0 285.6h2.5v2.5h-2.5zM99.3 287.1h2.5v2.5h-2.5zM103.8 286.1h2.5v2.5h-2.5zM108.2 284.4h2.5v2.5h-2.5zM83.7 290.4h2.5v2.5h-2.5zM88.0 291.1h2.5v2.5h-2.5zM95.0 292.2h2.5v2.5h-2.5zM99.3 293.1h2.5v2.5h-2.5zM103.8 291.6h2.5v2.5h-2.5zM108.2 290.9h2.5v2.5h-2.5zM112.5 289.4h2.5v2.5h-2.5zM86.2 299.9h2.5v2.5h-2.5zM90.7 300.9h2.5v2.5h-2.5zM95.0 302.1h2.5v2.5h-2.5zM99.3 302.4h2.5v2.5h-2.5zM103.8 302.1h2.5v2.5h-2.5zM108.2 300.9h2.5v2.5h-2.5zM112.5 299.1h2.5v2.5h-2.5zM84.8 303.6h2.5v2.5h-2.5zM88.5 304.9h2.5v2.5h-2.5zM92.0 305.8h2.5v2.5h-2.5zM95.8 307.6h2.5v2.5h-2.5zM99.3 307.6h2.5v2.5h-2.5zM103.0 307.1h2.5v2.5h-2.5zM106.8 306.4h2.5v2.5h-2.5zM110.3 304.9h2.5v2.5h-2.5zM114.0 303.9h2.5v2.5h-2.5zM86.2 309.4h2.5v2.5h-2.5zM90.7 309.8h2.5v2.5h-2.5zM95.0 311.9h2.5v2.5h-2.5zM99.3 312.2h2.5v2.5h-2.5zM103.8 310.1h2.5v2.5h-2.5zM108.2 309.4h2.5v2.5h-2.5zM112.5 309.1h2.5v2.5h-2.5z"/><path fill="#000" d="M84.0 293.4h2.5v2.5h-2.5zM84.0 293.5h2.5v2.5h-2.5zM85.7 294.3h2.5v2.5h-2.5zM85.7 294.4h2.5v2.5h-2.5zM87.4 295.1h2.5v2.5h-2.5zM87.4 295.2h2.5v2.5h-2.5zM89.1 295.8h2.5v2.5h-2.5zM89.1 295.9h2.5v2.5h-2.5zM90.8 296.4h2.5v2.5h-2.5zM90.8 296.5h2.5v2.5h-2.5zM92.5 296.9h2.5v2.5h-2.5zM92.5 297.0h2.5v2.5h-2.5zM94.1 297.3h2.5v2.5h-2.5zM94.1 297.4h2.5v2.5h-2.5zM95.8 297.5h2.5v2.5h-2.5zM95.8 297.6h2.5v2.5h-2.5zM97.5 297.7h2.5v2.5h-2.5zM97.5 297.8h2.5v2.5h-2.5zM99.2 297.8h2.5v2.5h-2.5zM99.2 297.9h2.5v2.5h-2.5zM100.9 297.7h2.5v2.5h-2.5zM100.9 297.8h2.5v2.5h-2.5zM102.6 297.5h2.5v2.5h-2.5zM102.6 297.6h2.5v2.5h-2.5zM104.2 297.3h2.5v2.5h-2.5zM104.2 297.4h2.5v2.5h-2.5zM105.9 296.9h2.5v2.5h-2.5zM105.9 297.0h2.5v2.5h-2.5zM107.6 296.4h2.5v2.5h-2.5zM107.6 296.5h2.5v2.5h-2.5zM109.3 295.8h2.5v2.5h-2.5zM109.3 295.9h2.5v2.5h-2.5zM111.0 295.1h2.5v2.5h-2.5zM111.0 295.2h2.5v2.5h-2.5zM112.7 294.3h2.5v2.5h-2.5zM112.7 294.4h2.5v2.5h-2.5zM114.3 293.4h2.5v2.5h-2.5zM114.3 293.5h2.5v2.5h-2.5z"/><path fill="#000" d="M84.0 313.6h2.5v2.5h-2.5zM84.0 313.8h2.5v2.5h-2.5zM85.7 313.9h2.5v2.5h-2.5zM85.7 314.1h2.5v2.5h-2.5zM87.3 314.2h2.5v2.5h-2.5zM87.3 314.4h2.5v2.5h-2.5zM89.0 314.5h2.5v2.5h-2.5zM89.0 314.7h2.5v2.5h-2.5zM90.6 314.7h2.5v2.5h-2.5zM90.6 314.9h2.5v2.5h-2.5zM92.2 314.9h2.5v2.5h-2.5zM92.2 315.1h2.5v2.5h-2.5zM93.9 315.0h2.5v2.5h-2.5zM93.9 315.2h2.5v2.5h-2.5zM95.5 315.1h2.5v2.5h-2.5zM95.5 315.3h2.5v2.5h-2.5zM97.1 315.2h2.5v2.5h-2.5zM97.1 315.4h2.5v2.5h-2.5zM98.8 315.2h2.5v2.5h-2.5zM98.8 315.4h2.5v2.5h-2.5zM100.4 315.2h2.5v2.5h-2.5zM100.4 315.4h2.5v2.5h-2.5zM102.1 315.2h2.5v2.5h-2.5zM102.1 315.4h2.5v2.5h-2.5zM103.7 315.1h2.5v2.5h-2.5zM103.7 315.3h2.5v2.5h-2.5zM105.3 315.0h2.5v2.5h-2.5zM105.3 315.2h2.5v2.5h-2.5zM107.0 314.9h2.5v2.5h-2.5zM107.0 315.1h2.5v2.5h-2.5zM108.6 314.7h2.5v2.5h-2.5zM108.6 314.9h2.5v2.5h-2.5zM110.2 314.5h2.5v2.5h-2.5zM110.2 314.7h2.5v2.5h-2.5zM111.9 314.2h2.5v2.5h-2.5zM111.9 314.4h2.5v2.5h-2.5zM113.5 313.9h2.5v2.5h-2.5zM113.5 314.1h2.5v2.5h-2.5zM115.2 313.6h2.5v2.5h-2.5zM115.2 313.8h2.5v2.5h-2.5z"/><line x1="146.2" y1="252.7" x2="146.2" y2="318" stroke="#6a6a6a" stroke-width="1.0"/><line x1="144.0" y1="318" x2="146.2" y2="318" stroke="#6a6a6a" stroke-width="0.8"/><text x="143.6" y="319.5" font-size="4.3" font-weight="bold" text-anchor="end" fill="#222">0</text><line x1="144.0" y1="304.9" x2="146.2" y2="304.9" stroke="#6a6a6a" stroke-width="0.8"/><text x="143.6" y="306.4" font-size="4.3" font-weight="bold" text-anchor="end" fill="#222">5</text><line x1="144.0" y1="291.9" x2="146.2" y2="291.9" stroke="#6a6a6a" stroke-width="0.8"/><text x="143.6" y="293.4" font-size="4.3" font-weight="bold" text-anchor="end" fill="#222">10</text><line x1="144.0" y1="278.8" x2="146.2" y2="278.8" stroke="#6a6a6a" stroke-width="0.8"/><text x="143.6" y="280.3" font-size="4.3" font-weight="bold" text-anchor="end" fill="#222">15</text><line x1="144.0" y1="265.7" x2="146.2" y2="265.7" stroke="#6a6a6a" stroke-width="0.8"/><text x="143.6" y="267.2" font-size="4.3" font-weight="bold" text-anchor="end" fill="#222">20</text><line x1="144.0" y1="252.7" x2="146.2" y2="252.7" stroke="#6a6a6a" stroke-width="0.8"/><text x="143.6" y="254.2" font-size="4.3" font-weight="bold" text-anchor="end" fill="#222">25</text><line x1="146.2" y1="318" x2="245.9" y2="318" stroke="#6a6a6a" stroke-width="1.2"/><line x1="171.3" y1="318" x2="171.3" y2="319.6" stroke="#6a6a6a" stroke-width="0.7"/><text x="171.3" y="326.8" font-size="4.9" font-weight="bold" text-anchor="middle">Normal</text><text x="171.3" y="332.2" font-size="4.9" font-weight="bold" text-anchor="middle">(n=20)</text><line x1="221" y1="318" x2="221" y2="319.6" stroke="#6a6a6a" stroke-width="0.7"/><text x="221" y="326.8" font-size="4.9" font-weight="bold" text-anchor="middle">MDS</text><text x="221" y="332.2" font-size="4.9" font-weight="bold" text-anchor="middle">(n=67)</text><line x1="172" y1="252.8" x2="223.8" y2="252.8" stroke="#333" stroke-width="1.2"/><line x1="172" y1="251.5" x2="172" y2="254.10000000000002" stroke="#333" stroke-width="0.9"/><line x1="223.8" y1="251.5" x2="223.8" y2="254.10000000000002" stroke="#333" stroke-width="0.9"/><text x="197.9" y="253.0" font-size="5.6" font-weight="bold" text-anchor="middle" textLength="9" lengthAdjust="spacingAndGlyphs">****</text><text x="135.2" y="285" font-size="5.6" font-weight="bold" text-anchor="middle" stroke="#000" stroke-width="0.12" transform="rotate(-90 135.2 285)" textLength="25" lengthAdjust="spacingAndGlyphs">% NK cells</text><line x1="155.3" y1="301.4" x2="187.3" y2="301.4" stroke="#777" stroke-width="0.9"/><line x1="171.3" y1="299" x2="171.3" y2="303.6" stroke="#777" stroke-width="0.7"/><line x1="163.8" y1="299" x2="178.8" y2="299" stroke="#777" stroke-width="0.7"/><line x1="163.8" y1="303.6" x2="178.8" y2="303.6" stroke="#777" stroke-width="0.7"/><g fill="#000"><circle cx="170.7" cy="258.4" r="1.4"/><circle cx="173.4" cy="285.0" r="1.4"/><circle cx="169.2" cy="287.1" r="1.4"/><circle cx="171.1" cy="297.0" r="1.4"/><circle cx="164.8" cy="302.1" r="1.4"/><circle cx="168.9" cy="303.0" r="1.4"/><circle cx="173.3" cy="302.1" r="1.4"/><circle cx="177.8" cy="302.1" r="1.4"/><circle cx="156.8" cy="304.5" r="1.4"/><circle cx="185.9" cy="304.8" r="1.4"/><circle cx="160.8" cy="306.7" r="1.4"/><circle cx="164.8" cy="306.7" r="1.4"/><circle cx="168.9" cy="307.0" r="1.4"/><circle cx="173.3" cy="308.3" r="1.4"/><circle cx="177.4" cy="307.0" r="1.4"/><circle cx="181.4" cy="306.7" r="1.4"/><circle cx="177.8" cy="309.9" r="1.4"/><circle cx="164.8" cy="312.2" r="1.4"/><circle cx="168.9" cy="313.7" r="1.4"/><circle cx="173.3" cy="313.4" r="1.4"/></g><path fill="#000" d="M219.7 285.1h2.5v2.5h-2.5zM219.7 290.2h2.5v2.5h-2.5zM217.4 301.6h2.5v2.5h-2.5zM221.6 302.6h2.5v2.5h-2.5zM206.6 305.4h2.5v2.5h-2.5zM210.8 306.1h2.5v2.5h-2.5zM214.9 306.9h2.5v2.5h-2.5zM219.3 307.4h2.5v2.5h-2.5zM223.7 306.9h2.5v2.5h-2.5zM228.1 306.1h2.5v2.5h-2.5zM232.4 305.4h2.5v2.5h-2.5z"/><line x1="206" y1="309.2" x2="236" y2="309.2" stroke="#777" stroke-width="0.9"/><path fill="#000" d="M204.2 308.6h2.5v2.5h-2.5zM204.2 309.2h2.5v2.5h-2.5zM205.9 309.1h2.5v2.5h-2.5zM205.9 309.7h2.5v2.5h-2.5zM207.5 309.4h2.5v2.5h-2.5zM207.5 310.0h2.5v2.5h-2.5zM209.1 309.8h2.5v2.5h-2.5zM209.1 310.4h2.5v2.5h-2.5zM210.7 310.0h2.5v2.5h-2.5zM210.7 310.6h2.5v2.5h-2.5zM212.3 310.3h2.5v2.5h-2.5zM212.3 310.9h2.5v2.5h-2.5zM213.9 310.5h2.5v2.5h-2.5zM213.9 311.1h2.5v2.5h-2.5zM215.5 310.6h2.5v2.5h-2.5zM215.5 311.2h2.5v2.5h-2.5zM217.1 310.7h2.5v2.5h-2.5zM217.1 311.3h2.5v2.5h-2.5zM218.7 310.7h2.5v2.5h-2.5zM218.7 311.3h2.5v2.5h-2.5zM220.3 310.7h2.5v2.5h-2.5zM220.3 311.3h2.5v2.5h-2.5zM221.9 310.7h2.5v2.5h-2.5zM221.9 311.3h2.5v2.5h-2.5zM223.5 310.6h2.5v2.5h-2.5zM223.5 311.2h2.5v2.5h-2.5zM225.1 310.5h2.5v2.5h-2.5zM225.1 311.1h2.5v2.5h-2.5zM226.7 310.3h2.5v2.5h-2.5zM226.7 310.9h2.5v2.5h-2.5zM228.3 310.0h2.5v2.5h-2.5zM228.3 310.6h2.5v2.5h-2.5zM229.9 309.8h2.5v2.5h-2.5zM229.9 310.4h2.5v2.5h-2.5zM231.5 309.4h2.5v2.5h-2.5zM231.5 310.0h2.5v2.5h-2.5zM233.1 309.1h2.5v2.5h-2.5zM233.1 309.7h2.5v2.5h-2.5zM234.8 308.6h2.5v2.5h-2.5zM234.8 309.2h2.5v2.5h-2.5z"/><path fill="#000" d="M203.8 312.4h2.5v2.5h-2.5zM203.8 313.1h2.5v2.5h-2.5zM205.4 313.0h2.5v2.5h-2.5zM205.4 313.6h2.5v2.5h-2.5zM207.1 313.5h2.5v2.5h-2.5zM207.1 314.1h2.5v2.5h-2.5zM208.7 314.0h2.5v2.5h-2.5zM208.7 314.6h2.5v2.5h-2.5zM210.4 314.4h2.5v2.5h-2.5zM210.4 315.0h2.5v2.5h-2.5zM212.0 314.7h2.5v2.5h-2.5zM212.0 315.3h2.5v2.5h-2.5zM213.7 315.0h2.5v2.5h-2.5zM213.7 315.6h2.5v2.5h-2.5zM215.4 315.1h2.5v2.5h-2.5zM215.4 315.7h2.5v2.5h-2.5zM217.0 315.3h2.5v2.5h-2.5zM217.0 315.9h2.5v2.5h-2.5zM218.7 315.3h2.5v2.5h-2.5zM218.7 315.9h2.5v2.5h-2.5zM220.3 315.3h2.5v2.5h-2.5zM220.3 315.9h2.5v2.5h-2.5zM222.0 315.3h2.5v2.5h-2.5zM222.0 315.9h2.5v2.5h-2.5zM223.6 315.1h2.5v2.5h-2.5zM223.6 315.7h2.5v2.5h-2.5zM225.3 315.0h2.5v2.5h-2.5zM225.3 315.6h2.5v2.5h-2.5zM227.0 314.7h2.5v2.5h-2.5zM227.0 315.3h2.5v2.5h-2.5zM228.6 314.4h2.5v2.5h-2.5zM228.6 315.0h2.5v2.5h-2.5zM230.3 314.0h2.5v2.5h-2.5zM230.3 314.6h2.5v2.5h-2.5zM231.9 313.5h2.5v2.5h-2.5zM231.9 314.1h2.5v2.5h-2.5zM233.6 313.0h2.5v2.5h-2.5zM233.6 313.6h2.5v2.5h-2.5zM235.2 312.4h2.5v2.5h-2.5zM235.2 313.1h2.5v2.5h-2.5z"/><line x1="288.6" y1="255.6" x2="288.6" y2="317.7" stroke="#6a6a6a" stroke-width="1.0"/><line x1="286.40000000000003" y1="317.7" x2="288.6" y2="317.7" stroke="#6a6a6a" stroke-width="0.8"/><text x="286.0" y="319.2" font-size="4.3" font-weight="bold" text-anchor="end" fill="#222">0</text><line x1="286.40000000000003" y1="305.3" x2="288.6" y2="305.3" stroke="#6a6a6a" stroke-width="0.8"/><text x="286.0" y="306.8" font-size="4.3" font-weight="bold" text-anchor="end" fill="#222">20</text><line x1="286.40000000000003" y1="292.9" x2="288.6" y2="292.9" stroke="#6a6a6a" stroke-width="0.8"/><text x="286.0" y="294.4" font-size="4.3" font-weight="bold" text-anchor="end" fill="#222">40</text><line x1="286.40000000000003" y1="280.4" x2="288.6" y2="280.4" stroke="#6a6a6a" stroke-width="0.8"/><text x="286.0" y="281.9" font-size="4.3" font-weight="bold" text-anchor="end" fill="#222">60</text><line x1="286.40000000000003" y1="268" x2="288.6" y2="268" stroke="#6a6a6a" stroke-width="0.8"/><text x="286.0" y="269.5" font-size="4.3" font-weight="bold" text-anchor="end" fill="#222">80</text><line x1="286.40000000000003" y1="255.6" x2="288.6" y2="255.6" stroke="#6a6a6a" stroke-width="0.8"/><text x="286.0" y="257.1" font-size="4.3" font-weight="bold" text-anchor="end" fill="#222">100</text><line x1="288.6" y1="317.7" x2="376.9" y2="317.7" stroke="#6a6a6a" stroke-width="1.2"/><line x1="309.8" y1="317.7" x2="309.8" y2="319.3" stroke="#6a6a6a" stroke-width="0.7"/><text x="309.8" y="324.7" font-size="4.9" font-weight="bold" text-anchor="middle">Normal</text><text x="309.8" y="330.4" font-size="4.9" font-weight="bold" text-anchor="middle">(n=20)</text><line x1="355.5" y1="317.7" x2="355.5" y2="319.3" stroke="#6a6a6a" stroke-width="0.7"/><text x="355.5" y="324.7" font-size="4.9" font-weight="bold" text-anchor="middle">MDS</text><text x="355.5" y="330.4" font-size="4.9" font-weight="bold" text-anchor="middle">(n=67)</text><line x1="309.6" y1="250.6" x2="355.2" y2="250.6" stroke="#333" stroke-width="1.2"/><line x1="309.6" y1="249.29999999999998" x2="309.6" y2="251.9" stroke="#333" stroke-width="0.9"/><line x1="355.2" y1="249.29999999999998" x2="355.2" y2="251.9" stroke="#333" stroke-width="0.9"/><text x="332.4" y="250.79999999999998" font-size="5.6" font-weight="bold" text-anchor="middle" textLength="9" lengthAdjust="spacingAndGlyphs">****</text><text x="275.8" y="286" font-size="5.2" font-weight="bold" text-anchor="middle" transform="rotate(-90 275.8 286)" textLength="45" lengthAdjust="spacingAndGlyphs">% NK Cells CD16<tspan font-size="3.4" dy="-2">+</tspan></text><line x1="294.8" y1="262.1" x2="324.8" y2="262.1" stroke="#777" stroke-width="0.9"/><line x1="309.9" y1="259" x2="309.9" y2="267.3" stroke="#8c8c8c" stroke-width="0.7"/><line x1="304.8" y1="267.3" x2="316.8" y2="267.3" stroke="#555" stroke-width="0.8"/><g fill="#000"><circle cx="297.0" cy="257.0" r="1.4"/><circle cx="300.3" cy="257.9" r="1.4"/><circle cx="305.2" cy="256.4" r="1.4"/><circle cx="309.7" cy="256.7" r="1.4"/><circle cx="314.0" cy="256.3" r="1.4"/><circle cx="319.1" cy="258.8" r="1.4"/><circle cx="322.4" cy="257.6" r="1.4"/><circle cx="303.4" cy="259.4" r="1.4"/><circle cx="307.0" cy="259.8" r="1.4"/><circle cx="310.1" cy="261.6" r="1.4"/><circle cx="313.1" cy="260.3" r="1.4"/><circle cx="316.0" cy="259.8" r="1.4"/><circle cx="298.8" cy="263.9" r="1.4"/><circle cx="314.2" cy="264.1" r="1.4"/><circle cx="318.5" cy="263.7" r="1.4"/><circle cx="303.2" cy="266.1" r="1.4"/><circle cx="305.4" cy="268.8" r="1.4"/><circle cx="309.9" cy="267.9" r="1.4"/><circle cx="309.9" cy="272.8" r="1.4"/><circle cx="314.2" cy="272.2" r="1.4"/></g><path fill="#000" d="M344.1 257.6h2.5v2.5h-2.5zM348.6 259.1h2.5v2.5h-2.5zM353.1 260.6h2.5v2.5h-2.5zM357.6 258.1h2.5v2.5h-2.5zM362.1 257.2h2.5v2.5h-2.5zM340.6 271.6h2.5v2.5h-2.5zM343.8 272.1h2.5v2.5h-2.5zM347.2 273.4h2.5v2.5h-2.5zM350.4 274.8h2.5v2.5h-2.5zM353.6 275.6h2.5v2.5h-2.5zM356.8 274.2h2.5v2.5h-2.5zM359.9 273.4h2.5v2.5h-2.5zM362.9 272.4h2.5v2.5h-2.5zM366.1 271.8h2.5v2.5h-2.5zM340.1 276.9h2.5v2.5h-2.5zM343.8 277.6h2.5v2.5h-2.5zM347.2 278.8h2.5v2.5h-2.5zM350.9 279.6h2.5v2.5h-2.5zM354.4 279.6h2.5v2.5h-2.5zM358.4 279.1h2.5v2.5h-2.5zM362.1 278.2h2.5v2.5h-2.5zM365.6 277.4h2.5v2.5h-2.5zM344.6 281.4h2.5v2.5h-2.5zM361.6 281.4h2.5v2.5h-2.5zM344.4 282.4h2.5v2.5h-2.5zM349.1 284.1h2.5v2.5h-2.5zM353.2 285.4h2.5v2.5h-2.5zM358.1 285.4h2.5v2.5h-2.5zM362.2 283.2h2.5v2.5h-2.5zM340.4 287.4h2.5v2.5h-2.5zM345.2 287.8h2.5v2.5h-2.5zM349.1 290.1h2.5v2.5h-2.5zM353.2 291.2h2.5v2.5h-2.5zM357.4 289.2h2.5v2.5h-2.5zM361.9 287.8h2.5v2.5h-2.5zM366.1 287.4h2.5v2.5h-2.5zM344.4 296.1h2.5v2.5h-2.5zM355.2 296.1h2.5v2.5h-2.5zM359.9 295.8h2.5v2.5h-2.5zM348.9 299.2h2.5v2.5h-2.5zM351.2 302.1h2.5v2.5h-2.5zM355.2 304.4h2.5v2.5h-2.5zM349.1 313.4h2.5v2.5h-2.5zM353.2 315.9h2.5v2.5h-2.5zM357.4 315.9h2.5v2.5h-2.5zM340.1 261.2h2.5v2.5h-2.5zM341.9 261.8h2.5v2.5h-2.5zM343.7 262.4h2.5v2.5h-2.5zM345.5 263.0h2.5v2.5h-2.5zM347.3 263.5h2.5v2.5h-2.5zM349.1 264.1h2.5v2.5h-2.5zM350.9 264.7h2.5v2.5h-2.5zM352.6 265.2h2.5v2.5h-2.5zM354.3 264.8h2.5v2.5h-2.5zM356.0 264.4h2.5v2.5h-2.5zM357.7 263.9h2.5v2.5h-2.5zM359.4 263.5h2.5v2.5h-2.5zM361.1 263.1h2.5v2.5h-2.5zM362.8 262.6h2.5v2.5h-2.5zM364.5 262.2h2.5v2.5h-2.5zM366.1 261.8h2.5v2.5h-2.5zM340.1 266.6h2.5v2.5h-2.5zM341.9 267.2h2.5v2.5h-2.5zM343.7 267.7h2.5v2.5h-2.5zM345.5 268.2h2.5v2.5h-2.5zM347.3 268.7h2.5v2.5h-2.5zM349.1 269.2h2.5v2.5h-2.5zM350.9 269.7h2.5v2.5h-2.5zM352.6 270.2h2.5v2.5h-2.5zM354.3 269.7h2.5v2.5h-2.5zM356.0 269.2h2.5v2.5h-2.5zM357.7 268.7h2.5v2.5h-2.5zM359.4 268.2h2.5v2.5h-2.5zM361.1 267.7h2.5v2.5h-2.5zM362.8 267.2h2.5v2.5h-2.5zM364.5 266.7h2.5v2.5h-2.5zM366.1 266.1h2.5v2.5h-2.5z"/><line x1="340.5" y1="270" x2="370.5" y2="270" stroke="#777" stroke-width="0.9"/><line x1="410.6" y1="254.4" x2="410.6" y2="317.7" stroke="#6a6a6a" stroke-width="1.0"/><line x1="408.40000000000003" y1="317.7" x2="410.6" y2="317.7" stroke="#6a6a6a" stroke-width="0.8"/><text x="408.0" y="319.2" font-size="4.3" font-weight="bold" text-anchor="end" fill="#222">0</text><line x1="408.40000000000003" y1="307.3" x2="410.6" y2="307.3" stroke="#6a6a6a" stroke-width="0.8"/><text x="408.0" y="308.8" font-size="4.3" font-weight="bold" text-anchor="end" fill="#222">2000</text><line x1="408.40000000000003" y1="296.8" x2="410.6" y2="296.8" stroke="#6a6a6a" stroke-width="0.8"/><text x="408.0" y="298.3" font-size="4.3" font-weight="bold" text-anchor="end" fill="#222">4000</text><line x1="408.40000000000003" y1="286.2" x2="410.6" y2="286.2" stroke="#6a6a6a" stroke-width="0.8"/><text x="408.0" y="287.7" font-size="4.3" font-weight="bold" text-anchor="end" fill="#222">6000</text><line x1="408.40000000000003" y1="275.6" x2="410.6" y2="275.6" stroke="#6a6a6a" stroke-width="0.8"/><text x="408.0" y="277.1" font-size="4.3" font-weight="bold" text-anchor="end" fill="#222">8000</text><line x1="408.40000000000003" y1="265" x2="410.6" y2="265" stroke="#6a6a6a" stroke-width="0.8"/><text x="408.0" y="266.5" font-size="4.3" font-weight="bold" text-anchor="end" fill="#222">10000</text><line x1="408.40000000000003" y1="254.4" x2="410.6" y2="254.4" stroke="#6a6a6a" stroke-width="0.8"/><text x="408.0" y="255.9" font-size="4.3" font-weight="bold" text-anchor="end" fill="#222">12000</text><line x1="410.6" y1="317.7" x2="506.3" y2="317.7" stroke="#6a6a6a" stroke-width="1.2"/><line x1="434.3" y1="317.7" x2="434.3" y2="319.3" stroke="#6a6a6a" stroke-width="0.7"/><text x="434.3" y="324.6" font-size="4.9" font-weight="bold" text-anchor="middle">Normal</text><text x="434.3" y="330.4" font-size="4.9" font-weight="bold" text-anchor="middle">(n=20)</text><line x1="481.8" y1="317.7" x2="481.8" y2="319.3" stroke="#6a6a6a" stroke-width="0.7"/><text x="481.8" y="324.6" font-size="4.9" font-weight="bold" text-anchor="middle">MDS</text><text x="481.8" y="330.4" font-size="4.9" font-weight="bold" text-anchor="middle">(n=67)</text><line x1="433.5" y1="253.3" x2="481.5" y2="253.3" stroke="#333" stroke-width="1.2"/><line x1="433.5" y1="252.0" x2="433.5" y2="254.60000000000002" stroke="#333" stroke-width="0.9"/><line x1="481.5" y1="252.0" x2="481.5" y2="254.60000000000002" stroke="#333" stroke-width="0.9"/><text x="457.5" y="253.5" font-size="5.6" font-weight="bold" text-anchor="middle" textLength="9" lengthAdjust="spacingAndGlyphs">****</text><text x="388" y="285.5" font-size="5.2" font-weight="bold" text-anchor="middle" transform="rotate(-90 388 285.5)" textLength="61" lengthAdjust="spacingAndGlyphs">NK Cell CD16 Expression</text><text x="394.2" y="288.5" font-size="5.2" font-weight="bold" text-anchor="middle" transform="rotate(-90 394.2 288.5)" textLength="10.5" lengthAdjust="spacingAndGlyphs">(MFI)</text><line x1="418.9" y1="289" x2="449.9" y2="289" stroke="#777" stroke-width="0.9"/><line x1="434.4" y1="285.1" x2="434.4" y2="291.5" stroke="#777" stroke-width="0.7"/><line x1="426.9" y1="285.1" x2="441.9" y2="285.1" stroke="#777" stroke-width="0.7"/><line x1="426.9" y1="291.5" x2="441.9" y2="291.5" stroke="#777" stroke-width="0.7"/><g fill="#000"><circle cx="434.4" cy="261.4" r="1.4"/><circle cx="432.1" cy="269.0" r="1.4"/><circle cx="436.4" cy="267.0" r="1.4"/><circle cx="432.1" cy="274.0" r="1.4"/><circle cx="436.0" cy="275.4" r="1.4"/><circle cx="430.1" cy="280.8" r="1.4"/><circle cx="434.4" cy="282.8" r="1.4"/><circle cx="439.9" cy="281.6" r="1.4"/><circle cx="430.5" cy="285.5" r="1.4"/><circle cx="436.7" cy="284.1" r="1.4"/><circle cx="432.1" cy="288.0" r="1.4"/><circle cx="430.5" cy="290.9" r="1.4"/><circle cx="434.4" cy="292.3" r="1.4"/><circle cx="438.3" cy="291.9" r="1.4"/><circle cx="429.0" cy="303.5" r="1.4"/><circle cx="432.9" cy="305.9" r="1.4"/><circle cx="436.4" cy="305.9" r="1.4"/><circle cx="440.2" cy="304.5" r="1.4"/><circle cx="432.1" cy="314.2" r="1.4"/><circle cx="436.0" cy="313.6" r="1.4"/></g><path fill="#000" d="M480.9 270.9h2.5v2.5h-2.5zM478.9 289.6h2.5v2.5h-2.5zM482.9 290.9h2.5v2.5h-2.5zM480.9 295.4h2.5v2.5h-2.5zM484.9 296.9h2.5v2.5h-2.5zM484.9 297.1h2.5v2.5h-2.5zM477.1 299.1h2.5v2.5h-2.5zM480.9 300.6h2.5v2.5h-2.5zM469.4 303.6h2.5v2.5h-2.5zM473.2 305.1h2.5v2.5h-2.5zM477.1 307.1h2.5v2.5h-2.5zM480.9 307.6h2.5v2.5h-2.5zM484.9 307.1h2.5v2.5h-2.5zM488.6 306.6h2.5v2.5h-2.5zM492.6 304.6h2.5v2.5h-2.5z"/><path fill="#000" d="M465.9 308.8h2.5v2.5h-2.5zM465.9 309.4h2.5v2.5h-2.5zM467.6 309.3h2.5v2.5h-2.5zM467.6 309.9h2.5v2.5h-2.5zM469.2 309.8h2.5v2.5h-2.5zM469.2 310.4h2.5v2.5h-2.5zM470.9 310.2h2.5v2.5h-2.5zM470.9 310.8h2.5v2.5h-2.5zM472.5 310.5h2.5v2.5h-2.5zM472.5 311.1h2.5v2.5h-2.5zM474.2 310.8h2.5v2.5h-2.5zM474.2 311.4h2.5v2.5h-2.5zM475.8 311.1h2.5v2.5h-2.5zM475.8 311.7h2.5v2.5h-2.5zM477.5 311.2h2.5v2.5h-2.5zM477.5 311.8h2.5v2.5h-2.5zM479.1 311.3h2.5v2.5h-2.5zM479.1 311.9h2.5v2.5h-2.5zM480.8 311.4h2.5v2.5h-2.5zM480.8 312.0h2.5v2.5h-2.5zM482.4 311.3h2.5v2.5h-2.5zM482.4 311.9h2.5v2.5h-2.5zM484.0 311.2h2.5v2.5h-2.5zM484.0 311.8h2.5v2.5h-2.5zM485.7 311.1h2.5v2.5h-2.5zM485.7 311.7h2.5v2.5h-2.5zM487.3 310.8h2.5v2.5h-2.5zM487.3 311.4h2.5v2.5h-2.5zM489.0 310.5h2.5v2.5h-2.5zM489.0 311.1h2.5v2.5h-2.5zM490.6 310.2h2.5v2.5h-2.5zM490.6 310.8h2.5v2.5h-2.5zM492.3 309.8h2.5v2.5h-2.5zM492.3 310.4h2.5v2.5h-2.5zM493.9 309.3h2.5v2.5h-2.5zM493.9 309.9h2.5v2.5h-2.5zM495.6 308.8h2.5v2.5h-2.5zM495.6 309.4h2.5v2.5h-2.5z"/><path fill="#000" d="M466.4 312.9h2.5v2.5h-2.5zM466.4 313.6h2.5v2.5h-2.5zM468.0 313.5h2.5v2.5h-2.5zM468.0 314.1h2.5v2.5h-2.5zM469.6 313.9h2.5v2.5h-2.5zM469.6 314.5h2.5v2.5h-2.5zM471.2 314.3h2.5v2.5h-2.5zM471.2 314.9h2.5v2.5h-2.5zM472.8 314.6h2.5v2.5h-2.5zM472.8 315.2h2.5v2.5h-2.5zM474.5 314.9h2.5v2.5h-2.5zM474.5 315.5h2.5v2.5h-2.5zM476.1 315.1h2.5v2.5h-2.5zM476.1 315.7h2.5v2.5h-2.5zM477.7 315.2h2.5v2.5h-2.5zM477.7 315.8h2.5v2.5h-2.5zM479.3 315.3h2.5v2.5h-2.5zM479.3 315.9h2.5v2.5h-2.5zM481.0 315.4h2.5v2.5h-2.5zM481.0 316.0h2.5v2.5h-2.5zM482.6 315.3h2.5v2.5h-2.5zM482.6 315.9h2.5v2.5h-2.5zM484.2 315.2h2.5v2.5h-2.5zM484.2 315.8h2.5v2.5h-2.5zM485.8 315.1h2.5v2.5h-2.5zM485.8 315.7h2.5v2.5h-2.5zM487.4 314.9h2.5v2.5h-2.5zM487.4 315.5h2.5v2.5h-2.5zM489.1 314.6h2.5v2.5h-2.5zM489.1 315.2h2.5v2.5h-2.5zM490.7 314.3h2.5v2.5h-2.5zM490.7 314.9h2.5v2.5h-2.5zM492.3 313.9h2.5v2.5h-2.5zM492.3 314.5h2.5v2.5h-2.5zM493.9 313.5h2.5v2.5h-2.5zM493.9 314.1h2.5v2.5h-2.5zM495.6 312.9h2.5v2.5h-2.5zM495.6 313.6h2.5v2.5h-2.5z"/></g></svg></body></html>
